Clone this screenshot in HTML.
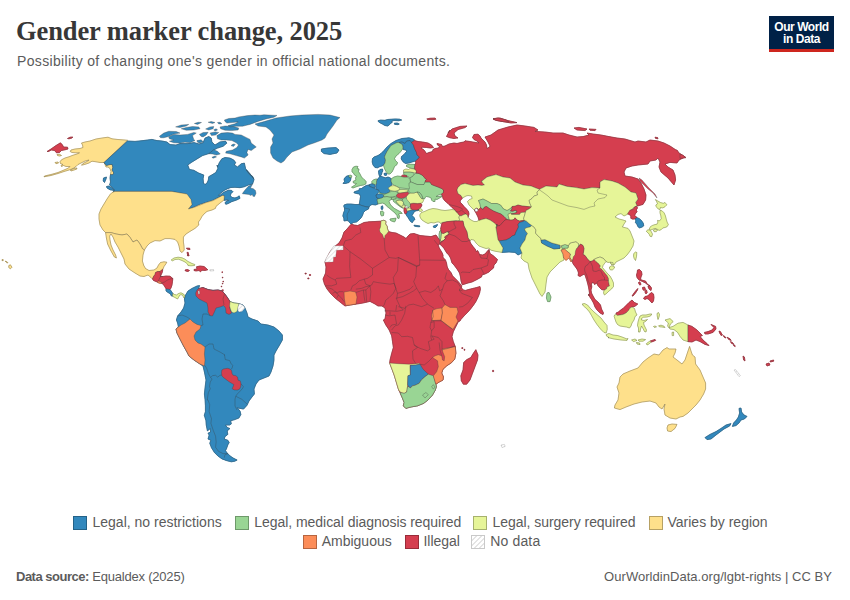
<!DOCTYPE html>
<html lang="en"><head><meta charset="utf-8"><title>Gender marker change, 2025</title>
<style>
html,body{margin:0;padding:0;background:#fff;}
body{width:850px;height:600px;position:relative;overflow:hidden;font-family:"Liberation Sans",Arial,sans-serif;color:#5b5b5b;}
.abs{position:absolute;white-space:nowrap;transform-origin:0 0;}
#title{left:16px;top:15.4px;letter-spacing:-0.1px;font-family:"Liberation Serif","Times New Roman",serif;font-weight:bold;font-size:26.5px;line-height:32px;color:#373737;}
#sub{left:17px;top:52.3px;letter-spacing:0.34px;font-size:14px;line-height:18px;color:#5b5b5b;}
#logo{left:769px;top:16px;width:65px;height:33px;background:#002147;border-bottom:3px solid #ce261e;color:#fff;text-align:center;font-weight:bold;font-size:12px;line-height:12px;letter-spacing:-0.45px;}
#logo span{display:block;}
.lg{font-size:14px;line-height:16px;color:#5b5b5b;}
.sw{position:absolute;width:12px;height:12px;border:0.7px solid rgba(0,0,0,.28);box-sizing:content-box;}
#foot1{left:16px;top:569px;font-size:13px;line-height:16px;}
#foot2{right:18px;top:569px;font-size:13px;line-height:16px;letter-spacing:0.04px;transform-origin:100% 0;}
svg{position:absolute;left:0;top:0;}
svg .top path{stroke:#3b3b3b;stroke-opacity:.6;stroke-width:.55;stroke-linejoin:round;}
svg .under path{stroke-width:.7;stroke-linejoin:round;}
.under .blue{stroke:#3288bd}.under .green{stroke:#99d594}.under .lyg{stroke:#e6f598}.under .yor{stroke:#fee08b}.under .orange{stroke:#fc8d59}.under .red{stroke:#d53e4f}
.blue{fill:#3288bd}.green{fill:#99d594}.lyg{fill:#e6f598}.yor{fill:#fee08b}.orange{fill:#fc8d59}.red{fill:#d53e4f}.none{fill:url(#hatch)}svg .top path.none{stroke-opacity:.35}svg .top path.ns{stroke:none}.white{fill:#fff}.line{fill:none}
</style></head><body>
<div id="title" class="abs">Gender marker change, 2025</div>
<div id="sub" class="abs">Possibility of changing one's gender in official national documents.</div>
<div id="logo" class="abs"><span style="margin-top:5px">Our World</span><span>in Data</span></div>
<svg width="850" height="600" viewBox="0 0 850 600">
<defs><pattern id="hatch" width="3" height="3" patternUnits="userSpaceOnUse" patternTransform="rotate(45)"><rect width="3" height="3" fill="#fff"/><line x1="0.5" y1="0" x2="0.5" y2="3" stroke="#e6e6e6" stroke-width="1"/></pattern></defs>
<g id="map">
<g class="under">
<path class="red" d="M47,151.5L51,149L56,145.5L60.5,142.8L62.5,145L63.5,147L67.5,147.2L68,149L65,149.8L61.5,150.5L59.5,152.5L56.5,152.8L54.5,150.5L51.5,150L48.5,151.5Z"/>
<path class="red" d="M67.5,138.5L70,137.2L72.8,137L72,138L69,138.8Z"/>
<path class="yor" d="M81.5,143L85,142L90,141L96,139L102,138L108,137.2L112,138.8L118,139.5L125,140L127.5,140.3L104,162.5L100,162.5L96,161.8L92,161.2L89,163L84.5,164.5L81.5,165.2L83,163.5L87,161.5L89,160L85,161L81,163L78,164.5L76,166.5L73,168.5L69,170L64,171.5L58,173.5L51,175.5L44,176.8L44.5,176L51,174.5L58,172.5L64,170L68.5,168L70,166.5L66,166.5L63.5,165.5L61.5,166.5L61,165.5L63,164.5L60.5,163.5L60,161.8L61.5,159.8L65,158L69,156.8L73,155.2L77,154L79.5,152.8L76,152.8L72,152.5L70.2,151.5L71,150L75,149L80,148.5L83,147.5L82.5,145Z"/>
<path class="yor" d="M104,162.5L106.5,165.5L110,164.5L112.2,164.5L112.8,167.5L112,170L113.8,173L112.5,174.8L110.5,174.5L111,171.5L110,168.5L108,167L106,167L105,164.5Z"/>
<path class="yor" d="M70.5,170L74,168.5L77,168L76.5,169.2L73.5,170.2L71,171Z"/>
<path class="yor" d="M57,154.5L59.5,154.3L61.5,155.5L59.5,156L57.5,155.5Z"/>
<path class="yor" d="M55,162.5L58,162L58.5,163L56,163.7Z"/>
<path class="blue" d="M103.5,178L106.5,177L106,179L104.5,182.5L103.2,181Z"/>
<path class="blue" d="M127.6,141L135,141.4L143,140.6L152,139.4L157,140.6L162,141L167,142L170,144.6L176,145L180,143.6L188,143.6L194,142.6L199,144L203.12,142.75L205,138.12L208.75,136.5L211.25,138.12L211.88,141.88L215,145L220,141.88L225.62,141.25L226.88,143.12L223.12,146.25L217.5,148.12L213.75,150L210,153.12L207.5,154L202.5,155.62L196.25,159.38L191.25,162.5L187.75,165L189.38,169.38L193.75,170.25L198.75,173.12L203.75,175L203.12,178.75L203.5,183.12L203.33,182.92L205,184.58L207.08,182.92L208.33,180L208.75,176.67L211.67,175L215.83,172.5L217.92,168.33L217.08,165L217.5,166.88L219.38,162.5L221.88,158.75L225,157.5L230,158.12L233.75,160L235.62,162.5L234.38,165L237.5,166.88L241.25,163.75L244.38,163.12L245.62,168.75L250,173.75L253.75,178.75L246.25,170L249.17,174.17L252.5,176.25L254,179.58L252.92,182.92L252.5,184L248.33,185L244.17,186.83L240,187.67L235,187.33L230.83,187.5L227.5,188.75L224.17,190.42L220.83,192.92L218.33,195.42L220,195.17L223.33,192.5L228.33,190.17L231.67,190.42L232.92,191.67L230.83,193.75L230.42,195.83L232.08,197.5L235,197.92L237.5,197.08L239.17,195.83L240,198.33L236.67,200L231.67,201.67L228.33,203.5L225.83,204.33L225,202.92L226.67,200.83L228.75,200.42L227.08,199.83L224.17,200.42L223.75,195.17L218,197.4L212,200.6L204,203L199,204.6L194,207L188,209L191.6,204.6L190,199L186,194L180,193L171,191.4L113,191.4L114.5,190L112,187L109.5,185L110.5,182L110,178L110.5,174.5L112.5,174.8L113.8,173L112,170L112.8,167.5L112.2,164.5L110,164.5L106.5,165.5L104,162.5Z"/>
<path class="blue" d="M106.5,186.5L109,186L112,188L114.5,190.5L110,189.8L107,188Z"/>
<path class="blue" d="M321.4,149L328,148L336,147.6L339,150L337,153L330,154.4L324,153.6L321.4,151.4Z"/>
<path class="yor" d="M115,191.4L172,191.4L181,193L187,194L191,199.4L192,204.6L188.4,209L194,207.4L200,205L206,202.6L213,200.6L219,197.4L222.4,195.4L224.4,196L224,200L220,203L216,206.4L215.4,208.4L212,210L207,211.4L204,214L202,216.4L200,220L198.4,222L198.8,225L195,228.4L190,231.4L186,234L183.4,237L183.4,242L184,246L184.2,250L182,252.6L180,251L179,246L177.6,242L175,239.4L170,238.6L165,238.6L160,241L155,240.6L150,243L147,246L144.4,250L142.4,248.6L140,244L137,240L133,242L130,237.4L127,234L122,235L116,234L111,232.6L105.6,232.6L103,230L100,225L99,219L99,214L101,209L104,204L107,199L110,194.6L112,192.6Z"/>
<path class="yor" d="M105.6,232.6L111,232.6L116,234L122,235L127,234L130,237.4L133,242L137,240L140,244L142.4,248.6L144.4,250L143,255L142.4,261L143.6,265L143.5,265L145.5,268.5L149,270.5L154,270L157,268L158.5,265L160.5,262.5L164,261.8L166.8,262.2L165.8,264L164,266.5L163,269L161.5,270L160,271.5L157.5,271.5L155.5,272.5L155,274.5L153.5,276.5L152.5,279L151,277.5L148,275L144,276.5L140,276L135,273L129,269L125,264L124,259L121,253L118,247L115,242L113,237L111,234L109.6,236L110,240L111,245L113,250L115.6,255L116.4,258L114.4,257L111,251L107.6,244L106.4,238Z"/>
<path class="red" d="M152.5,279L153.5,276.5L155,274.5L155.5,272.5L157.5,271.5L160,271.5L161.5,270L162.8,269.5L162.2,272.5L161,275L160.5,276.5L163,276.5L166,276L170,276.2L172.8,278.5L172.5,281.5L172,285L171,288L170,289.5L166.2,289L164.5,286.2L163,284L161.5,283.3L158.5,282.5L156,281.5L153.5,280.5Z"/>
<path class="orange" d="M157.2,281.8L158.5,281L161,281.8L161.8,283L160,283.3L158,282.8Z"/>
<path class="blue" d="M166.2,289L170,289.5L171.5,291.5L172.8,293.5L172.5,296.2L171.2,295.8L170.5,294L168.5,292.8L166.5,291.5L165.8,290Z"/>
<path class="lyg" d="M172.8,293.5L174.5,294.5L176.5,295L178.5,293.5L181,292.8L183.5,294L185,296L184.5,298L183.5,297.5L183,295.5L181,294.5L179.5,295.5L178.5,297.5L177.5,299L175,297.5L173,296.5L172.5,295Z"/>
<path class="lyg" d="M171.2,260L174,258L178,257.2L182,257.8L185,259.2L188,261.5L192,263.5L194.8,264.5L194.5,265.5L191,265.8L188,265.5L187.5,264L185,262L182,260.5L178.5,259.2L175,259.5L172.5,260.8Z"/>
<path class="red" d="M185,270L187.5,269.5L189.5,270.5L188,271.5L185.5,271Z"/>
<path class="red" d="M194,269.5L197,269L196.5,266.8L200,266L204,266.5L206.5,268.5L207.8,269.8L205,270.5L202,270.2L200.5,271.8L199,270.5L196,271L194,270.5Z"/>
<path class="red" d="M186.4,248.2L189.6,248.2L190,249.6L187.4,249.2Z"/>
<path class="red" d="M187,252.4L188.2,252.4L188.8,255.6L187.8,255.2Z"/>
<path class="red" d="M187.2,255L189,255L188.8,255.9L187.6,255.8Z"/>
<path class="red" d="M221.95,271.8L222.45,271.8L222.45,272.6L221.95,272.6Z"/>
<path class="red" d="M222.35,277.2L222.85,277.2L222.85,278L222.35,278Z"/>
<path class="red" d="M222.95,281.2L223.45,281.2L223.45,282L222.95,282Z"/>
<path class="red" d="M222.35,283.2L222.85,283.2L222.85,284L222.35,284Z"/>
<path class="red" d="M221.25,286.1L221.75,286.1L221.75,286.9L221.25,286.9Z"/>
<path class="red" d="M221.8,290L223.2,289.8L223,291.6L222,291.4Z"/>
<path class="yor" d="M8.8,265.6L10.4,264.8L12,267.2L10.4,268.8L8.8,267.6Z"/>
<path class="yor" d="M5.2,261.2L6.8,261.6L8,262.8L6.8,262.8Z"/>
<path class="yor" d="M2,259.6L3.2,259.6L3.2,260.6L2,260.6Z"/>
<path class="red" d="M305,273.2L306.2,273.2L306.2,274L305,274Z"/>
<path class="red" d="M309.4,274.6L310.6,274.6L310.6,275.4L309.4,275.4Z"/>
<path class="red" d="M307.8,278L309,278L309,278.8L307.8,278.8Z"/>
<path class="blue" d="M185.6,295L188,291L192,288.4L197,286L199.6,285.6L198.4,289L203,287.6L208,289.6L213,290.4L218,290L222,291L224,293L227,297L230,301.6L234,303L239,303.6L243,305L245,308L247,313L248,317L252,319L258,321L261,324L268,325L274,327L279,331L282.4,335L282.4,340L279,346L276,351L274,355L274,360L273,366L271,372L269,376L264,378L259,380L256,384L254,389L254.4,394L252,397L249,401L247.05,405.25L243.55,409.1L238.89,408.16L237.14,407.58L240.05,411.08L240.87,414.58L238.89,418.07L234.22,419.82L230.72,420.76L231.31,423.9L229.56,425.07L225.48,425.07L227.22,427.4L229.91,428.57L227.22,430.9L227.81,434.4L224.89,436.73L224.31,439.06L227.81,440.23L229.21,442.56L227.81,444.89L226.64,448.39L225.48,450.72L227.22,453.06L230.14,455.97L233.64,458.3L237.14,460.05L234.8,461.22L231.31,461.8L226.64,460.63L221.98,458.89L217.9,455.97L214.4,452.47L211.48,447.81L209.73,443.14L210.9,440.23L207.99,439.06L209.15,434.98L207.99,433.23L210.55,432.07L210.32,428.57L207.4,430.9L206.24,425.07L205.89,420.41L204.25,415.16L205.42,411.66L205.42,405.83L205.07,400L204.4,394L205,388L206,380L204.4,372L203,366L200,364L194,360L189,356L187,352L183.6,346L180,339L177,333L176,329L178.4,327L177.6,323L176.4,320L177.6,316L181,312L183.6,308L185,303L184.4,299Z"/>
<path class="red" d="M200.6,288L203,287.6L208,289.6L213,290.4L218,290L222,291L224,293L227,297L230,301.6L230.4,304L229.6,307L230.4,310L231.6,313L229,314.4L226,313L225.6,308L223.6,305.6L220,307L216,308L214.4,312L212.4,316L210,315.6L208,312L208,308L207,303L203,301L199,299L196,296L195.6,293L197,290L199,288.4Z"/>
<path class="lyg" d="M230,301.6L234,303L239,303.6L238,308L237,311.6L234,313L231.6,312L230.4,309L229.6,306Z"/>
<path class="orange" d="M176,329L178.4,327L181,325L185,323L190,319L193,322L197,324.4L201,325.6L200,329L196,332L194,336L195,340L198,343L201,344L205,347L204.4,354L205,360L204.4,366L200,364L194,360L189,356L187,352L183.6,346L180,339L177,333Z"/>
<path class="red" d="M221.88,370L223.75,368.88L227.51,368.35L229.76,368.88L231.63,370.75L232.01,373.38L233.13,375.26L235.76,375.63L237.63,377.13L238.01,380.13L240.26,380.88L241.01,383.88L240.63,386.88L239.51,389.13L237.26,390.11L234.26,389.88L232.16,388.76L233.13,386.51L233.88,384.63L232.01,383.51L229.01,381.63L226.01,379.38L223.38,377.51L221.88,375.63L221.5,372.63Z"/>
<path class="green" d="M390,187L400,188.5L409,189.5L410,193L409,200L404,205L396,200L392,197L384,196L380,194L378,191L380,190L388,190Z"/>
<path class="blue" d="M372.5,158.5L374,157L378,155.5L381,153.5L384,150.5L387,147L391,143.5L396,140.5L402,138.5L409,137.8L413,139L414.5,140L411.5,142.5L410,140.5L406.5,141.2L405,143.5L402,142L399,142.5L397,142.5L394,144L391,145.5L389,148.5L387,151.5L385.5,154.5L384.5,157L385.5,160L385,163L383.5,165.2L382,166L380,166.5L377.5,167.8L375,167.5L373,165L372.2,162Z"/>
<path class="green" d="M399,142.5L397,142.5L394,144L391,145.5L389,148.5L387,151.5L385.5,154.5L384.5,157L385.5,160L385,163L383.5,165.2L384.5,168.5L386,171.5L388,174L390,174L392,172L393.5,169L394.5,166.5L397,164.5L397.5,162.5L395.5,160.5L394.5,158.5L396,156L399,153.5L401.2,151L403.2,148L402.8,145L401,143.5Z"/>
<path class="blue" d="M399,142.5L402,142L405,143.5L406.5,141.2L410,140.5L411.5,142.5L413.5,145L414.5,148.5L416.5,152.5L417,155L419.5,157L418,159L415.5,161L412,162L409,163L405.5,163.5L403,161.8L401.2,159L401.5,156.5L404,154.5L406.5,151.5L406,150L403.2,149.5L403.2,148L402.8,145L401,143.5Z"/>
<path class="green" d="M406.5,165L410,164.2L415,164.5L414.5,167.5L414.8,169L412,168.5L409,167.5L406.5,166.5Z"/>
<path class="lyg" d="M403.5,170L406,169L408.5,169.5L410,168.5L412,168.7L414.8,169.2L416.5,171L416,173L413.5,172.5L410,172L406,172L403.5,172Z"/>
<path class="green" d="M403.5,172.5L406,172.2L410,172.2L413.5,172.8L414.5,174L412.5,176.5L410,178L408.5,177L407,175.5L404,175Z"/>
<path class="red" d="M401.2,176.2L402.5,175.2L405,175.2L406.8,175.8L407.2,177L404,177.2L401.5,177Z"/>
<path class="green" d="M414.5,174L416.5,173L416,173L419,173.5L422,175L424,177L425,178.5L426.5,179.5L425,181L425.5,182L425,182L424,184.5L417,184.5L411,182L409,183L410.5,182L410,179L410,178L412.5,176.5Z"/>
<path class="green" d="M391,179L394,177L397.5,176L401.2,176.5L404,177.2L407.2,177.2L409,178L410,179.5L410.5,182.5L410,184.5L411,187L409.5,189L406,188.5L402,188L399,187.5L396,186L393.5,185L391.5,183L390.8,181Z"/>
<path class="blue" d="M377.5,179L379,177.8L380,176L383,177L385.5,177.8L388,177L390.5,178L391,179L390.8,181L391.5,183L392,185L390,186.5L389,188.5L390,191L389,192.5L386,193.8L383,193.5L380,193L378.5,190L376.5,189.5L375.8,186L376.5,184L376.5,181Z"/>
<path class="blue" d="M378.5,171L380,169.5L382.5,169L382.8,171L382,172.5L381.5,174.5L380.5,176L379.5,176.2L378.8,174Z"/>
<path class="blue" d="M384,173.5L386,173L387,174L386.2,175.5L384.5,175.2Z"/>
<path class="green" d="M371.8,181.5L373.5,179.8L376,179L377.2,179.2L376.5,181L376.5,183.5L375,184.8L373.5,184L372,183.5Z"/>
<path class="blue" d="M369,184.8L371.8,183.8L373.5,184.2L375,185L375.2,187.5L373.5,188L371,187L369.2,186Z"/>
<path class="green" d="M352,169.5L353.5,167L356,166.2L358,166.5L357,168.5L359,169L358.5,171.5L360,174L361.5,177L364,179.5L366.2,181.5L365.8,184L363.5,185L360.5,185.5L357,186.5L353,188L351.5,187.2L355,185L356.5,183.5L353.5,183L353,181.5L356,180L355.5,178L356.5,176L354.5,175L353.5,173L352,172Z"/>
<path class="green" d="M348.5,176L350,175L351.8,175.8L351.5,177.5L349.5,177.8Z"/>
<path class="blue" d="M344,179L346,176.5L348.5,175.5L349,177.5L351,178L350.5,180.5L349,182.5L345.5,183.5L343,183.5L344.5,181.5Z"/>
<path class="blue" d="M354,192L356.5,191L359,190.5L359.2,188.8L361.5,188.5L364,186.8L366.2,185.5L369,185L369.2,186.2L371,187L373.5,188L375,188.5L376.5,189.5L378.5,190L379,191.5L377.5,193.5L376,195L376.5,197.5L378.5,198.5L377,199.5L377.5,201.5L378,204L375.5,205L372,204.5L370,205.5L369,207.2L366,206.8L362.5,205.8L359,204.5L359.5,203L360,199.5L360.5,196.5L359.5,194L356.5,193.5L354,192.8Z"/>
<path class="blue" d="M381.2,206.5L382.5,205.8L383,208L382.2,209.8L381.2,209Z"/>
<path class="green" d="M380.5,211.5L382.5,211L383.8,212.5L383.5,215.5L381.5,216L380.5,214Z"/>
<path class="blue" d="M344,205L347,204L351,204L355,204.5L359,204.5L362.5,205.8L366,206.8L369,207.2L368.5,209L365.5,210.5L363.5,212.5L362.5,215.5L361,218L359,220L356.5,222L353.5,222.5L351,224L349.5,222.5L348.5,221L347,220.5L344,221L343.8,218L342.8,216L343.5,213L344.5,210.5L344.5,208L343.8,206.5Z"/>
<path class="green" d="M377.5,201.5L377,199.5L379,198.5L382,197.8L384,196.8L387,196.5L390,197L392,197.8L391.5,199.5L390,200L389,201.5L390,204L392,206.5L394.5,208.5L398,210.5L401,212L402.2,213.5L400,213.5L398.5,214L399.5,216L399,218.5L397.5,218L397,215.5L395,213L392,210.5L389,208L386.5,206L385,204L382.5,203L380,203.5L378,204Z"/>
<path class="green" d="M390,219L393,218.5L396,218.2L395.5,220.5L394.5,222L391.5,221L390,220Z"/>
<path class="blue" d="M376,195L378.5,194L382,194L384,195L383.5,196.5L382,197.8L379,198.5L376.5,197.5Z"/>
<path class="green" d="M383.5,195L386,193.8L389,192.5L392,191L395,191.2L397.8,192.5L398,194L396.5,196L393,196.8L390,197L387,196.5L384,196.8Z"/>
<path class="lyg" d="M388,188L391,186L394,185.5L396.5,186.5L399,187.8L400,189.2L398,190.5L395,191.2L392,190.8L389.5,190Z"/>
<path class="lyg" d="M398,190.5L400,189.5L404,189.5L408,190L407.5,191.8L404,192.5L400,193L397.8,192.5Z"/>
<path class="red" d="M396.5,195L398,193.5L401,193L404.5,192.5L408,192L409,193.5L407.5,196L405,197.5L401.5,198.5L398.5,198L396.5,196.5Z"/>
<path class="green" d="M391.5,197.8L394.5,197L396.5,197.5L395.5,199L393,199.5L391.5,199.2Z"/>
<path class="green" d="M393,199.5L395.5,199L397,197.8L400,198.8L402.5,199L402,200.5L399,200L397,200.5L396,201.5L398,204L400.5,206.5L403,208L401.5,207.5L398.5,205.5L395.5,203L393.5,201.5Z"/>
<path class="lyg" d="M396,201L397.5,200.5L400,200.2L402.2,200.8L403.5,202.5L403,205L402,206.5L400,205.5L398,203.8Z"/>
<path class="green" d="M402.5,199L405,197.8L407,198.5L409,201L410,203.5L410.5,205.5L409,207.5L406.5,207.2L405.5,205.5L404,204.5L403.5,202.5L402.5,200.5Z"/>
<path class="lyg" d="M402,206.5L403.2,205L404.8,205.5L405,207.2L404,208.2L402.8,207.8Z"/>
<path class="red" d="M404,208.2L405,207.5L406,208.5L406.8,210.5L407.2,212.5L406,214L404.8,213.5L404,211Z"/>
<path class="lyg" d="M406.8,208.5L409.5,208L411.2,209L410.5,210.5L408,211L406.8,210.5Z"/>
<path class="blue" d="M406,214L407.2,212.5L408,211L410.5,210.5L413.5,210L417,209.5L419,209L418.5,210.5L416,210.8L414,212L413,214L412,215.5L414,217.5L415,219.5L413.5,220.5L412.5,222.5L411,222L409.5,220L408,217.5L406.5,215.5Z"/>
<path class="blue" d="M414,225.2L417,225.5L420,226L419.5,226.8L416,226.5L414.2,226Z"/>
<path class="blue" d="M433.2,226.2L435,225.5L437.5,224.5L437,226L435.5,227.5L433.8,227.5Z"/>
<path class="lyg" d="M406.5,196.5L408.5,194L411,193L414,193L417,192L418.5,194L420,196.5L421.5,198.5L423,198.8L423.5,200.5L422.5,202.5L421,203.2L417.5,203.5L413.5,203.2L410.5,203.5L408.5,201.5L406.5,199Z"/>
<path class="red" d="M410.5,204L413.5,203.5L417.5,203.8L421,203.5L422,205L421,207L420,208.5L418.5,209.5L416.5,210L413.5,210L411.2,209L410.5,207Z"/>
<path class="green" d="M409,183L411,182L417,184.5L424,184.5L425,182L430,182L431.5,184.5L434,185.5L438,187L441.5,188.5L443.5,190L443.5,192.5L441.5,194L438.5,195L436,196.5L439,196.5L442.5,195.5L442,196.5L439.5,198L437,199.5L435,199L435,201.5L433,201.5L431.5,200L431.2,198L429,197L426.5,196.5L425,197.5L424.5,199L423,198.5L421.5,195L419.5,192.5L417,192L414,193L411,193L409,192L408.5,190L409.5,188L409,185.5Z"/>
<path class="green" d="M417,192L419.5,192.5L421.5,195L423,198.5L421.5,198.5L420,196.5L418.5,194Z"/>
<path class="lyg" d="M419,209L420,208.5L421.5,209L422.5,210.5L421,211.5L419,211Z"/>
<path class="lyg" d="M420,214.5L421.5,212.5L424.5,211.5L429,209.5L433,208.5L437,209L441,210L445,210.5L449,210L452,209.5L455,210L456,211.5L458,213.5L459.5,215.5L459,217.5L459.5,219.5L459,221L456,220.5L453,221L449,221.5L445,222L442,222.5L440.5,223.5L439.5,222L437,222L434,223L431,222.5L428,223.5L425,222L422,220L420.5,218L419.8,216Z"/>
<path class="lyg" d="M441,236L441.5,233L443.5,233.5L446.5,232L448.2,231.2L449,234L446.5,235.5L444.5,237L445.5,238.5L443.5,240.5L441,241.5L440,241L440.8,238.5Z"/>
<path class="green" d="M439.8,231L441,230.5L441.5,233L441,236L440.8,238.5L440,241L439.2,237.5L439,234.5Z"/>
<path class="lyg" d="M440.8,228L442.2,227.5L442,230L441,230.7Z"/>
<path class="blue" d="M378.07,120.71L380.71,120.05L384.83,120.3L387.71,119.47L391.42,119.23L395.54,118.9L399.65,119.23L401.71,120.05L398.83,120.71L393.89,120.54L391.83,121.12L392.24,122.36L390.43,123.59L389.36,124.83L387.71,126.06L384.83,125.49L382.36,124L379.88,122.77L378.24,121.53Z"/>
<path class="blue" d="M394.3,123.18L397.18,123.01L399.24,124L398.01,124.66L394.71,124.42Z"/>
<path class="red" d="M351.5,224L354,225L357.5,225.5L360,224.5L364,222.5L369,221.8L375,221.5L380.5,221.2L384,220.2L386,221.5L385.5,224L387,226L387.5,229L388.5,231.5L392,232.5L396,233L400,235L404,237L406,238.5L408,236L410,234L414,233.5L417,234.5L420,235.5L425,236L431,236.6L436,235L439.9,240.6L439.6,244L438.3,245.4L439.25,248L442.25,253L443.1,255.5L442.9,257L443.5,258L445.5,260L446.5,263L447.25,267L448.5,269.5L451.25,272.92L452.5,275.83L455,278.33L457.92,281.25L460,283.75L461.67,285.83L461.5,287.92L463.33,290L465.42,290.42L468.33,289.58L472.5,288.5L476.67,287.5L480,286.5L480.42,289.17L479.58,293.33L477.92,297.5L475.83,301.67L473.33,305.42L470.42,309.17L467.5,312.5L464.17,315.83L460.83,319.58L460,321L458.33,321.67L455,328.33L453.33,331.67L452,336.67L453.33,341.67L455.33,346.67L455.83,353.33L454.67,359.17L451.67,362.5L446.67,365.83L443,369.17L441.67,373L443.33,376.67L443,380L439.17,382L435.83,384.17L436.33,386.67L435.33,390L432.5,395L428.33,399.67L423.67,403.33L417.5,405.83L410.83,407L405.83,408.33L403.33,405.83L404.17,402.5L402.5,398.33L400,392.5L398.67,390L396.67,383.33L394.17,375L391.67,368.33L389.67,363L390,360L391.67,353.33L393.33,347.5L392.5,341.67L391.67,335.83L389.17,330L385.83,325L383.33,320L385,319L386,313L385,308L382,306L378,306L375,304L370,301.4L363,303L357,304L350,305L345,306L340,302L335,298L331,294L327,289L324.4,284L323,279L325.6,273L326,267L325,262L327,258L330,252L334,247L339,243L342,238L344,232L347,229L350,225.5Z"/>
<path class="lyg" d="M381,221L384,220.2L386,221.5L385.5,224L387,226L387.5,229L388.5,231.5L387,233.5L385,235.5L384.5,239L383.5,237.5L382.5,234.5L380,232L379.5,229.5L380.5,227L380.8,224Z"/>
<path class="orange" d="M344,292L350,291L355.6,292L357,297L356,304L350,305L345.6,305.4L344.4,299Z"/>
<path class="orange" d="M433,310L437,308.6L442,308L442.4,313L441,320L432,320.6L431.6,315Z"/>
<path class="orange" d="M442,308L445,304.6L450,307.4L457,307.4L458,312L456,317L458,321L453,329.4L448,326L441,320.6L442.4,313Z"/>
<path class="lyg" d="M389.67,363L398.33,363.67L409.17,364.17L415.83,363.67L419.17,363.33L420,364.17L415.83,365L410,365.33L410.33,375L408,375.83L407.5,386.67L406.67,392L404.17,393.33L400.83,392.5L398.67,390L396.67,383.33L394.17,375L391.67,368.33Z"/>
<path class="blue" d="M410.33,365.33L415.83,365L420,364.17L423,369.17L428.33,374.17L425,376.67L421.33,380L419.17,383.33L415,385.33L412.5,385.83L410.33,388L408.67,386.67L407.67,384.67L407.83,375.83L410.33,375Z"/>
<path class="green" d="M400,392.5L404.17,393.33L406.67,392L407.5,386.67L408.67,386.67L410.33,388L412.5,385.83L415,385.33L419.17,383.33L421.33,380L425,376.67L428.33,374.17L433.33,375.83L435.83,384.17L436.33,386.67L435.33,390L432.5,395L428.33,399.67L423.67,403.33L417.5,405.83L410.83,407L405.83,408.33L403.33,405.83L404.17,402.5L402.5,398.33Z"/>
<path class="green" d="M422.5,395L425.83,392.5L428.33,394.67L425,398Z"/>
<path class="green" d="M431.67,386.67L433.33,384.67L435,387L433.33,389.17Z"/>
<path class="orange" d="M455.33,346.67L455.83,353.33L454.67,359.17L451.67,362.5L446.67,365.83L443,369.17L441.67,373L443.33,376.67L443,380L439.17,382L435.83,384.17L433.33,375.83L436.67,371.67L438.33,366.67L437.5,360.83L432.5,357.5L435,355.83L438.33,354.67L441.67,355.83L442.5,360L444.17,360.83L444.67,356.67L443,352.5L442,349.17L445.83,348.33L450.83,347.5Z"/>
<path class="red" d="M475.83,349.67L478,355L477.5,360L475,366.67L472.5,373.33L470,380L466.67,384.17L463.33,384.17L461.33,380.83L460.83,375.83L463,370L463.67,362.5L466.67,359.67L470.83,357.5L473.33,353.33Z"/>
<path class="red" d="M461.83,347.67L462.83,347.67L462.83,348.5L461.83,348.5Z"/>
<path class="red" d="M464,349.33L464.83,349.33L464.83,350.17L464,350.17Z"/>
<path class="red" d="M492.6,370.4L493.6,370.4L493.6,371.6L492.6,371.6Z"/>
<path class="red" d="M411.5,142.5L414.5,140.5L418,141.5L422.5,142L428,143L431.5,145L433.5,147.5L430.5,148L426.5,147.5L422.5,147.2L421,148L424,150L426.5,153.5L429,152.5L432.5,151.5L433,149.5L435,148.5L438.5,148L439.5,146.5L437.5,145L437,143.5L439.5,144L441.5,144.5L442.5,146.5L445,146L449,144L454,143L457,143.5L461,142.5L464,142L465,140.8L470,141.5L474,142.2L479,143L477,141L474,139.5L472.5,137.5L474,134.5L478,134.2L480,136L481,138L483,140L485,142L486.5,145L487,148.5L489.5,147L490,146L488,142L485,137L491,135L498,130L508,127L517,125L525,126L534,127.4L538,130L535,131.4L545,132L553,133L563,133L569,135L577,137L583,136.6L589,135L587,133L593,134L601,135L609,136.6L617,138L625,139L635,142L638,141L646,142L650,140L658,141L664,143L670,146L676,150L677,150L679,153L685,157L679,160L677,163L670,162.4L665,164L668,167L673,170L675,175L675.6,180L674,185L668,178L661,172L659,167L660,162L658,158L656,160L650,161L648,164L638,165L632,166L626,168L624,172L625,176L632,177L638,179L641,183L644,189L646,195L645.6,200L643,204.4L639,205.6L637,206L635.6,202.4L638,199L636,193L631,192L625,187L618,183L612,181L604,179.6L600,182L600,188L592,187.6L584,189L576,187.6L567,186.4L559,184L557,187L546,186L539,189.6L536,188L531,186L523,185L515,182L510,178L503,177L496,174.6L487,177L482,181L481.5,181L482.5,183L484.5,184.8L482,185.5L478,185L473,185.5L469,184.5L465,183.5L461,184.5L458,187.5L457,190L458,193.5L461,195.5L462.5,198L460,201L460.5,202.5L462,204L464,206.5L466.5,209L468.5,211.5L469,214L468,217.5L467.5,215.5L466,214L464,214.5L461,216L459.5,215.5L458,213.5L456,211.5L455,210L452,207.5L449,204.5L448,203.5L445,201L443,198.5L442.5,196L441.5,194L443.5,192.5L443.5,190L441.5,188.5L438,187L434,185.5L431.5,184.5L430,182L429,182L425.5,182L425,181L426.5,179.5L425,178.5L424,177L422,175L419,173.5L416,173L416.5,171L414.8,169.2L414.5,167.5L415,164.5L415.8,163L415.5,161L418,159L419.5,157L417,155L416.5,152.5L414.5,148.5L413.5,145Z"/>
<path class="red" d="M446.5,136.5L448,133.5L450,130L448,133L452,129L460,126.4L467,126L465,127.6L458,129.6L454,133L455,136L458,138L457,138L454,138.5L450,137.8Z"/>
<path class="red" d="M493,118.6L500,118L508,120.6L517,122.6L511,123L502,121.4L495,120Z"/>
<path class="red" d="M574,128L579,127.4L587,129L585,130.6L577,130Z"/>
<path class="red" d="M589,129L596,129.4L595,130.6L590,130.2Z"/>
<path class="red" d="M426.84,118.9L430.13,118.24L435.07,118.07L435.9,119.23L432.6,119.72L427.66,119.56Z"/>
<path class="red" d="M493,119L498,118L506,120L509,122L503,121.6L497,120.6Z"/>
<path class="red" d="M655,137.2L657.6,137.6L658,138.8L655.6,138.4Z"/>
<path class="red" d="M680,154L682.4,155L686,157.6L683,158L680,158.4Z"/>
<path class="lyg" d="M462.5,198L461,195.5L458,193.5L457,190L458,187.5L461,184.5L465,183.5L469,184.5L473,185.5L478,185L482,185.5L484.5,184.8L482.5,183L481.5,181L482,181L487,177L496,174.6L503,177L510,178L515,182L523,185L531,186L536,188L540,189.4L537,192L537.5,195L534,196L532,198.5L529,200.5L530,203.5L531.5,207L527,206.5L522,206L518,205L515,206.2L512,206.5L511.5,207.5L509,209.5L507,210.5L503.5,209L500.5,205L497,203.5L491.5,203.5L487,201L483,199L478.5,200.5L480,204L480.5,207.5L478.5,210L477,208L475,209L474.5,210.5L472,208L469,205L467.5,201.5L469.5,199.5L472.2,198.5L471.5,196L468,195.5L466,196Z"/>
<path class="green" d="M478.5,200.5L483,199L487,201L491.5,203.5L497,203.5L500.5,205L503.5,209L507,210.5L509,209.5L511.5,207.5L512,209L510.5,211L513,211.2L515,210.2L517,211L516.5,212.5L514,213.5L511.5,213.5L510.5,213L508,214.5L508.5,216.5L509.5,220L507,219.5L504,216.5L501,214L497,212.5L493.5,211L490,209L486.5,206.5L484.5,207L483,209.5L480.5,207.5L480,204Z"/>
<path class="red" d="M512,206.5L515,206.2L518,205L522,206L527,206.5L531.5,207L529,209L526,210.5L525.5,212.2L521,212.5L519.5,214.5L515,214.5L511.5,214.5L511.2,213.8L514,213.5L516.5,212.5L517,211L515,210.2L513,211.2L510.5,211L512,209Z"/>
<path class="lyg" d="M508,214.5L510.5,213L511.5,214.5L515,214.5L519.5,214.5L521,212.5L525.5,212.2L523.5,219L524.8,220.5L522.5,220.5L519.5,221L517,220L515,217.8L514,219.5L512,220L509.5,220L508.5,216.5Z"/>
<path class="red" d="M475,209L477,208L478.5,210L480.5,207.5L483,209.5L484.5,207L486.5,206.5L490,209L493.5,211L497,212.5L501,214L504,216.5L507,219.5L505,220L503,222L500,225.5L497,226L495.5,224L493,222L490,220L486,218.5L482,219.5L479,220.5L478,217L476,213L474.5,210.5Z"/>
<path class="red" d="M497,226L500,225.5L503,222L505,220L507,219.5L509.5,220L512,220L514,219.5L515,217.8L517,220L519.5,221L522.5,220.5L524.8,220.5L523,221.5L519.5,222.5L518,224.5L518.5,227L517,230L515.5,233L515,235L512,236L510,238L506,240L499,241L498,240L497,234L496,228L497,224L496,227.5Z"/>
<path class="blue" d="M524.8,220.5L526.5,221.2L529,223.5L531.8,225.5L530,227L526.5,227.8L524.5,229L525.5,231L527.5,233.5L526,236L525,240L522,244L520,248L522,253L518,255L515,252.4L509,252L502,252.4L503,248L500,243L499,241L506,240L510,238L512,236L515,235L515.5,233L517,230L518.5,227L518,224.5L519.5,222.5L523,221.5Z"/>
<path class="lyg" d="M459,221L459.5,219.5L459,217.5L459.5,215.5L461,216L464,214.5L466,214L467.5,215.5L468,217.5L469,218.5L471,220L474,221.5L477,221.5L479,220L479,220.5L482,219.5L486,218.5L490,220L493,222L495.5,224L497,226L496,227.5L497,224L496,228L497,234L498,240L499,241L500,243L503,248L502,252.4L495,251.2L490.5,250L489,248L486,248.5L483,247.5L479,246L476,243L474,240L471,239.5L470,241L468,238L467,232L464,226L463,221Z"/>
<path class="red" d="M442,223L447,221.6L454,221L459,221L463,221L464,226L467,232L468,238L469.5,240L470.5,243L473,246.5L475.5,249.5L476.5,252L477.5,250.5L478.5,252L479.5,254.5L482.5,255L485,254L487.5,251L489,249.5L490,253.5L493,255.5L497.5,259.5L496,263L494,265L493.5,268L491,270L489,272L485,274L482,275L481.5,277L477,279.5L472,282L468,283L465,284L462.2,284.8L461,281L460.5,277L459.5,273L457,269L455.5,267L454,265L452,263L450.5,258L448.75,255L446.75,253L443.75,248L440.75,245L440,243.5L441,241.5L443.5,240.5L445.5,238.5L444.5,237L446.5,235.5L449,234L448.2,231.2L446.5,232L443.5,233.5L441.5,233L441,230.5L440.8,228Z"/>
<path class="lyg" d="M531.8,225.5L530,227L526.5,227.8L524.5,229L525.5,231L527.5,233.5L526,236L525,240L522,244L520,248L522,253L521,258L524,261L528,263L529,269L532,278L536,286L540,294L542,296.4L545,292L546,284L547,277L550,272L555,267L560,262L564,260L563.6,258L563,254L561,250L564.4,249L568,252L570.4,254L569.6,257L572,261L575,256L577,251L579,244L576,241.6L570,243L568.4,245.6L568,248L562,248.4L561.6,245.6L561,246L560,248.4L554,249L547,246L541.6,243L541,240L541,239L541,238.5L538,236L535.5,233L536,230L534,227Z"/>
<path class="green" d="M547,293L549,292.4L551,297L550,301.6L547.6,301.6L546.4,298Z"/>
<path class="blue" d="M541,240L545,239.6L552,243L559.6,245L560,248.4L554,249L547,246L541.6,243Z"/>
<path class="green" d="M561.6,245.6L565,244.4L568.4,245.6L568,248L562,248.4Z"/>
<path class="orange" d="M561,250L564.4,249L568,252L570.4,254L569.6,257L572,261L571,262L569,258L566,260.4L563.6,258L563,254Z"/>
<path class="lyg" d="M539,190L537,192L537.5,195L534,196L532,198.5L529,200.5L530,203.5L531.5,207L529,209L526,210.5L525.5,212.2L523.5,219L524.8,220.5L526.5,221.2L529,223.5L531.8,225.5L534,227L536,230L535.5,233L538,236L541,238.5L541,239L541,240L545,239.6L552,243L559.6,245L561,246L561.6,245.6L565,244.4L568.4,245.6L570,243L576,241.6L579,244L578,247.5L580.5,244L583,245.5L584,248.5L583.5,252L583,254.5L585,255.5L587.5,259L590,261.5L592.5,261L594,259.5L597,258L600,257L603.5,258.5L606,261.5L608,262.5L610.5,262.2L611,264L614,265L616,262L620,260L624,258L627,255L630,251L633,246L634,241L632,236L630,231L628,228.4L622.4,227L624,224L626,221L623,220L619,219L615,217L618,214.4L621,213.6L624,216L628,214L631,210L634,207L637,206L635.6,202.4L638,199L636,193L631,192L625,187L618,183L612,181L604,179.6L600,182L600,188L592,187.6L584,189L576,187.6L567,186.4L559,184L557,187L546,186L539,189.6Z"/>
<path class="red" d="M578,247.5L580.5,244L583,245.5L584,248.5L583.5,252L583,254.5L585,255.5L587.5,259L590,261.5L592.5,261L594,259.5L596,261.5L598.5,263.5L600.5,266L599.5,267.5L602,269.5L604.5,272.5L607,275.5L608.5,278.5L608.5,281L609,284L609.5,286L607,287L606.5,289L603.5,290L601.5,289.5L599.5,287.5L597.5,285L597,283L594.5,284.5L594,283L592,282.5L591.5,284.5L591.8,287L591,290L591.5,293L593,296L595,299.5L598,302L600.5,305L601.5,309L603.5,313L603,314.5L600,313L597,310L595,307L593.5,303L591.5,299.5L589.5,296.5L588.5,294L589,296L589.5,293L589,290L588.5,287L587.5,283L586.5,279.5L585.5,276.5L584.5,274L582.5,275L580,276.5L578,275.5L578.5,273L577.5,270L575.5,267L573.5,264.5L572.5,262.5L572.8,259L573.5,256.5L575,255L575.5,251L576.5,248.5Z"/>
<path class="lyg" d="M594,259.5L597,258L600,257L603.5,258.5L606,261.5L604.5,263.5L603,265.5L602.5,267.5L604.5,270L607,273L610,276L612,279.5L613.5,283L613.5,286.5L611.5,289L609,291L607,293L604.5,295L603.5,293L604,290.5L606.5,289L607,287L609.5,286L609,284L608.5,281L608.5,278.5L607,275.5L604.5,272.5L602,269.5L599.5,267.5L600.5,266L598.5,263.5L596,261.5Z"/>
<path class="lyg" d="M609.5,267L611.5,265.8L614,266.2L614.5,268L612.5,269.8L610.5,270L609.5,268.5Z"/>
<path class="lyg" d="M610.5,262.2L613,262.6L613.2,265L611.5,264.6Z"/>
<path class="lyg" d="M633.8,253.5L635.5,252L636.8,252.5L636.5,256.5L635.5,260.5L634.2,258.5L633.5,256Z"/>
<path class="red" d="M637.5,270L639.5,269.5L641.5,271.5L642,274.5L641,277L640.5,279.5L643,280.5L645.5,281L647,283.5L649,285.5L650,285.5L648,285L645.5,283L642.5,281.5L639,280L638.5,279.5L637,277.5L636.5,275L637.2,272.5Z"/>
<path class="red" d="M638.5,282.5L639.8,281.8L641,284.2L640,285.2L639,284Z"/>
<path class="red" d="M632,296L634,293L636,290.5L637.8,288.5L637.5,290L635.5,293L633,296Z"/>
<path class="red" d="M642.5,287.5L644.5,287L645.5,289.5L644,290.5L642.8,289.5Z"/>
<path class="red" d="M645,291L646.5,290L647.2,292.5L646,294L645.2,292.8Z"/>
<path class="red" d="M648,286L650,285.8L651.5,288L651,290.5L649.5,289.5L648.5,288Z"/>
<path class="red" d="M643.5,298.5L645,296.5L647.5,296L649,294.5L651.5,292.5L653.5,294L654,297.5L653.5,301L652,303L650.5,301.5L649,299.5L647,298.5L645,299.5Z"/>
<path class="lyg" d="M582.2,304L584.5,303.5L587.5,305L590.5,308.5L594,312L597.5,315L601,318L604,322L607,325.5L607.2,329.5L606.2,333L604,332.5L600.5,329L597,324.5L594,320L591.5,315.5L589.5,312L586.5,308.5L583.5,306Z"/>
<path class="lyg" d="M606.2,334.5L609,333.5L613,335L617.5,335.5L622,337L627,339L628,338.4L627,340.4L621,340L614,339L608,337.6L609,337.5L606.5,336Z"/>
<path class="red" d="M616,313L618.5,312L620.5,310L623,308.5L626,305.5L629,302.5L632,300L634.5,302.5L637.8,304L636,305.5L634.5,306.5L632,307L630,308L628.5,310.5L626,313L623,314.5L620,315L617.5,315.5L616.2,314.5Z"/>
<path class="lyg" d="M614.5,315L616.2,314.5L617.5,315.5L620,315L623,314.5L626,313L628.5,310.5L630,308L632,307L634.5,308.5L635.5,312L637,315L635,316.5L634,320L632,323L631,326L629.5,328L626.5,327L623,326.5L620,326L617.5,324.5L616,322L615,319L614.2,316.5Z"/>
<path class="lyg" d="M640,316L642.5,315L646,315L650,314L651.8,314L650.5,316L647,317L643.5,317.2L641.5,318.5L641.5,320L644,320.5L647.5,319.5L645.5,321.5L643.5,322.5L644,325L645.5,328L646.5,330L646,332L644.5,331.5L643,328.5L641.5,326L640.5,329L640,332L638.5,332L638.5,328L637.5,325.5L638,322L639,318.5Z"/>
<path class="lyg" d="M657,313.5L658.5,312.5L659.5,314.5L659,317L658,319.5L657.5,317.5L657.2,315.5Z"/>
<path class="lyg" d="M653.5,326.5L655,326L656.5,326.8L654.5,327.5Z"/>
<path class="lyg" d="M658.5,325.8L661,325.2L664,326.2L665,327.5L662,327L659.5,326.8Z"/>
<path class="lyg" d="M631.6,340L635,339L637,340.4L633.6,341.6Z"/>
<path class="lyg" d="M638,340L642,339L645.6,339.6L643,341.2L639,341.2Z"/>
<path class="lyg" d="M636.4,342.4L639.6,343L640,344.6L637,344Z"/>
<path class="lyg" d="M646.4,343.6L650,341L651.6,341.6L649,344L647,345Z"/>
<path class="red" d="M650.4,341L655,339.4L655.6,340.4L651.6,342Z"/>
<path class="lyg" d="M672,332.4L673.6,332L673.6,335.6L672.2,335.6Z"/>
<path class="lyg" d="M665,320L670,318.6L673.2,321.6L670.4,324L669,327.6L673,326.4L678,323.2L683,322.4L688,325L688,341.6L683,340L680,336.4L677.6,332.4L674,329.6L670,329L667.6,326L668.4,323Z"/>
<path class="red" d="M627.5,213.75L630,210L632.92,209.58L635,206.67L636.67,206.25L637.5,207.92L636.25,210L637.08,211.67L635.42,213.75L634.58,215.42L637.08,217.5L635,218.75L632.92,219.17L630.83,218.33L630.83,215.83L629.17,214.58Z"/>
<path class="blue" d="M635,218.75L637.08,217.67L639.58,218.75L641.67,220.83L643.33,223.33L643.75,225.83L642.08,227.08L639.58,227.92L637.92,226.67L636.83,224.17L635.42,222.5L635.83,220.83Z"/>
<path class="lyg" d="M655.42,199.58L657.5,200.83L660.42,202.5L663.33,203.33L665,202.5L666.83,204.83L665,206.67L662.92,207.92L660.42,207.5L660,209.58L657.92,208.75L656.25,206.67L655.83,205L657.5,203.75L656.67,201.67Z"/>
<path class="lyg" d="M660,210.42L662.08,210.83L664.17,212.92L665.42,215.83L666.25,219.17L667.08,222.08L668.33,224.58L667.08,226.67L665,227.5L662.92,227.92L661.25,229.58L659.17,230.42L657.08,229.17L655,228.33L652.92,229.17L650.83,230L649.17,229.17L650.42,226.67L652.5,225.42L655,224.58L657.08,224.17L657.92,222.08L657.5,220.42L659.58,220.83L661.25,218.75L660.83,215.83L660,212.92Z"/>
<path class="lyg" d="M653.33,230L655.83,229.17L657.5,230L656.25,231.67L654.17,231.67Z"/>
<path class="lyg" d="M646.25,231.25L647.92,229.83L650,230L651.25,231.67L652.5,234.17L651.67,236.67L650,236.25L649.17,234.17L647.92,232.92Z"/>
<path class="yor" d="M667,347.6L663,350L659,355L654,354L648,358L643,362L638,368L630,371L623,374L620,377L619,383L617,387L619,393L618,400L615,405L614.4,408L620,409.6L626,407L634,404L642,402L650,401L656,403L659,407L662,409L665,404L664,409L665,415L670,418L676,419L680,417L683,416.4L688,413L692,409L696,405L700,400L703.6,394L705.6,389L705.6,383L703,377L700,370L695.6,364L695,357L692.4,355L691,351L689.6,346.4L687,354L685,360L682,364L677,360L673,357L675,353L676,349L669,349Z"/>
<path class="yor" d="M668,425L672,424L677,424.4L675,428.4L671,431.6L667.6,431L667,428Z"/>
<path class="red" d="M688,325L692,326.4L697,330L700,333L702.4,335.6L700,336.4L703,340L707,343.6L709,345.6L705,344.4L700,341.6L696,340L692,342L688,341.6Z"/>
<path class="red" d="M704.4,332.4L708,331.6L712,330L714,327.6L711,324.4L715.6,326.4L716,329L713,332.4L708,334L705,334Z"/>
<path class="red" d="M719,331L720.4,331.6L722.4,335L721.2,335.6L719.6,333Z"/>
<path class="red" d="M723.2,335.6L724.8,336.4L726,338L724.4,337.4Z"/>
<path class="red" d="M727,337.2L730,338.8L731.2,340.4L728.8,339.6Z"/>
<path class="red" d="M730.4,341.6L732.4,342.4L733.6,344L731.6,343.4Z"/>
<path class="red" d="M733.2,344.4L734.8,345.2L735.2,346.6L733.8,345.8Z"/>
<path class="red" d="M743,356L744.4,357L745,361L743.6,360Z"/>
<path class="red" d="M766,364L769,363L770,365L767,366Z"/>
<path class="red" d="M770,361L773.6,360L773.6,361.2L770.4,362Z"/>
<path class="blue" d="M739,408.4L741,408L741.6,412L744,415L747,416.4L744.4,419L741,420L739,423L736,425.6L732.4,426.4L733.6,423L736.4,420L738.4,417L739.6,413Z"/>
<path class="blue" d="M731,423.6L729.6,426L724,429L720,432L716,435L711,439L707,439.6L705,437.6L710,434.4L716,431.6L721,428.4L726,425Z"/>
</g>
<g class="top">
<path class="red" d="M47,151.5L51,149L56,145.5L60.5,142.8L62.5,145L63.5,147L67.5,147.2L68,149L65,149.8L61.5,150.5L59.5,152.5L56.5,152.8L54.5,150.5L51.5,150L48.5,151.5Z"/>
<path class="red" d="M67.5,138.5L70,137.2L72.8,137L72,138L69,138.8Z"/>
<path class="yor" d="M81.5,143L85,142L90,141L96,139L102,138L108,137.2L112,138.8L118,139.5L125,140L127.5,140.3L104,162.5L100,162.5L96,161.8L92,161.2L89,163L84.5,164.5L81.5,165.2L83,163.5L87,161.5L89,160L85,161L81,163L78,164.5L76,166.5L73,168.5L69,170L64,171.5L58,173.5L51,175.5L44,176.8L44.5,176L51,174.5L58,172.5L64,170L68.5,168L70,166.5L66,166.5L63.5,165.5L61.5,166.5L61,165.5L63,164.5L60.5,163.5L60,161.8L61.5,159.8L65,158L69,156.8L73,155.2L77,154L79.5,152.8L76,152.8L72,152.5L70.2,151.5L71,150L75,149L80,148.5L83,147.5L82.5,145Z"/>
<path class="yor" d="M104,162.5L106.5,165.5L110,164.5L112.2,164.5L112.8,167.5L112,170L113.8,173L112.5,174.8L110.5,174.5L111,171.5L110,168.5L108,167L106,167L105,164.5Z"/>
<path class="yor" d="M70.5,170L74,168.5L77,168L76.5,169.2L73.5,170.2L71,171Z"/>
<path class="yor" d="M57,154.5L59.5,154.3L61.5,155.5L59.5,156L57.5,155.5Z"/>
<path class="yor" d="M55,162.5L58,162L58.5,163L56,163.7Z"/>
<path class="blue" d="M103.5,178L106.5,177L106,179L104.5,182.5L103.2,181Z"/>
<path class="blue" d="M127.6,141L135,141.4L143,140.6L152,139.4L157,140.6L162,141L167,142L170,144.6L176,145L180,143.6L188,143.6L194,142.6L199,144L203.12,142.75L205,138.12L208.75,136.5L211.25,138.12L211.88,141.88L215,145L220,141.88L225.62,141.25L226.88,143.12L223.12,146.25L217.5,148.12L213.75,150L210,153.12L207.5,154L202.5,155.62L196.25,159.38L191.25,162.5L187.75,165L189.38,169.38L193.75,170.25L198.75,173.12L203.75,175L203.12,178.75L203.5,183.12L203.33,182.92L205,184.58L207.08,182.92L208.33,180L208.75,176.67L211.67,175L215.83,172.5L217.92,168.33L217.08,165L217.5,166.88L219.38,162.5L221.88,158.75L225,157.5L230,158.12L233.75,160L235.62,162.5L234.38,165L237.5,166.88L241.25,163.75L244.38,163.12L245.62,168.75L250,173.75L253.75,178.75L246.25,170L249.17,174.17L252.5,176.25L254,179.58L252.92,182.92L252.5,184L248.33,185L244.17,186.83L240,187.67L235,187.33L230.83,187.5L227.5,188.75L224.17,190.42L220.83,192.92L218.33,195.42L220,195.17L223.33,192.5L228.33,190.17L231.67,190.42L232.92,191.67L230.83,193.75L230.42,195.83L232.08,197.5L235,197.92L237.5,197.08L239.17,195.83L240,198.33L236.67,200L231.67,201.67L228.33,203.5L225.83,204.33L225,202.92L226.67,200.83L228.75,200.42L227.08,199.83L224.17,200.42L223.75,195.17L218,197.4L212,200.6L204,203L199,204.6L194,207L188,209L191.6,204.6L190,199L186,194L180,193L171,191.4L113,191.4L114.5,190L112,187L109.5,185L110.5,182L110,178L110.5,174.5L112.5,174.8L113.8,173L112,170L112.8,167.5L112.2,164.5L110,164.5L106.5,165.5L104,162.5Z"/>
<path class="blue" d="M106.5,186.5L109,186L112,188L114.5,190.5L110,189.8L107,188Z"/>
<path class="blue" d="M242.5,193.33L245,190L248.33,186.25L252.5,184.17L251.67,185.83L250.42,187.92L253.33,188.75L255.42,190.42L256,193.33L254.58,196.5L252.92,196.25L252.5,194.58L250.42,195.42L249.17,194.58L246.67,194.17L242.5,193.75Z"/>
<path class="blue" d="M216.88,135.62L221.25,133.12L227.5,132.5L232.5,133.12L235,134.38L241.25,135L245,136.88L250,139.38L251.25,143.12L256.25,146.88L251.25,150.62L248.12,149.38L246.88,152.5L248.12,155L244.38,158.12L241.25,156.88L236.25,155.62L230,153.75L225.62,153.12L226.25,151.25L232.5,150L236.88,147.5L238.5,145L236.25,142.75L231.88,140.62L226.25,140L221.25,140L217.5,138.75Z"/>
<path class="blue" d="M231,145.62L233.12,144L235.25,144.38L233.5,146.5Z"/>
<path class="blue" d="M208.75,153.75L213.75,149.75L217.5,151.25L220.25,154L216.5,155L212.5,154Z"/>
<path class="blue" d="M211.88,157.25L215,156L216.5,156.88L213.12,158.25Z"/>
<path class="blue" d="M168.75,136.88L173.75,134.38L180,135L187.5,134.38L193.75,132.5L196.25,133.12L192.5,135.62L193.75,139.38L195,140.62L190,142.75L185,142.25L180,143.12L173.75,142.75L169.38,141.25L173.75,140L169.38,138.75Z"/>
<path class="blue" d="M159.38,136.25L163.75,133.12L168.75,131.25L176.25,131.5L180,133.12L173.75,134L168.75,136.5L163.75,137.75L160.62,137.75Z"/>
<path class="blue" d="M199.38,134.38L203.12,132.5L208.12,132.25L206.25,135L203.12,136.88L201.25,136.5Z"/>
<path class="blue" d="M210,133.12L215,131.88L218.75,132.5L215.62,135L211.5,135.62Z"/>
<path class="blue" d="M196.88,140.62L201.25,139.75L203.12,141.88L199.38,142.88L197.5,142.25Z"/>
<path class="blue" d="M175.62,126.88L181.25,125L188.75,124.38L186.25,126L180,127.5Z"/>
<path class="blue" d="M181.25,128.75L186.25,127.5L192.5,126.5L198.75,126.88L200,128.75L193.75,130L186.25,130.25Z"/>
<path class="blue" d="M194.38,123.5L198.12,122.25L201.5,122.5L197.5,124.38Z"/>
<path class="blue" d="M205.62,129L210,126.88L213.75,126.5L213.12,128.75L208.75,130Z"/>
<path class="blue" d="M208.12,122.25L211.25,121.5L215,122.5L212.5,123.5Z"/>
<path class="blue" d="M217.5,122.5L220,122.25L221.88,123.75L218.75,124Z"/>
<path class="blue" d="M213.75,129.75L216.25,128.75L217.5,130L215,131Z"/>
<path class="blue" d="M220,126.88L225,126L232.5,126.25L238.75,128.12L238.12,130L231.25,130.62L225,130.25L220.62,128.75Z"/>
<path class="blue" d="M224.38,120L228.75,118.5L235,118.12L238.75,116.88L247.5,115.62L255,115L260,115.25L264,114.8L277,115.4L274,117.2L266,119L258,121.4L250,124.4L247.5,125L242.5,126.25L236.25,126.25L230,126.88L228.12,125.62L235,123.75L238.12,121.88L232.5,122.5L226.88,123.12L225,121.5Z"/>
<path class="blue" d="M255,124L264,121.6L276,118L290,116L302,115L318,114.4L330,115L340,117.6L337,120L333,126L330,130L327,134L325,138L322,140L314,143L308,145L300,149L292,152L287,157L284,161L281,163L277,161L273,158L270.6,153L270.6,147L273,143L272,139L274,135L270,130L266,127L258,126Z"/>
<path class="blue" d="M321.4,149L328,148L336,147.6L339,150L337,153L330,154.4L324,153.6L321.4,151.4Z"/>
<path class="yor" d="M115,191.4L172,191.4L181,193L187,194L191,199.4L192,204.6L188.4,209L194,207.4L200,205L206,202.6L213,200.6L219,197.4L222.4,195.4L224.4,196L224,200L220,203L216,206.4L215.4,208.4L212,210L207,211.4L204,214L202,216.4L200,220L198.4,222L198.8,225L195,228.4L190,231.4L186,234L183.4,237L183.4,242L184,246L184.2,250L182,252.6L180,251L179,246L177.6,242L175,239.4L170,238.6L165,238.6L160,241L155,240.6L150,243L147,246L144.4,250L142.4,248.6L140,244L137,240L133,242L130,237.4L127,234L122,235L116,234L111,232.6L105.6,232.6L103,230L100,225L99,219L99,214L101,209L104,204L107,199L110,194.6L112,192.6Z"/>
<path class="yor" d="M105.6,232.6L111,232.6L116,234L122,235L127,234L130,237.4L133,242L137,240L140,244L142.4,248.6L144.4,250L143,255L142.4,261L143.6,265L143.5,265L145.5,268.5L149,270.5L154,270L157,268L158.5,265L160.5,262.5L164,261.8L166.8,262.2L165.8,264L164,266.5L163,269L161.5,270L160,271.5L157.5,271.5L155.5,272.5L155,274.5L153.5,276.5L152.5,279L151,277.5L148,275L144,276.5L140,276L135,273L129,269L125,264L124,259L121,253L118,247L115,242L113,237L111,234L109.6,236L110,240L111,245L113,250L115.6,255L116.4,258L114.4,257L111,251L107.6,244L106.4,238Z"/>
<path class="red" d="M152.5,279L153.5,276.5L155,274.5L155.5,272.5L157.5,271.5L160,271.5L161.5,270L162.8,269.5L162.2,272.5L161,275L160.5,276.5L163,276.5L166,276L170,276.2L172.8,278.5L172.5,281.5L172,285L171,288L170,289.5L166.2,289L164.5,286.2L163,284L161.5,283.3L158.5,282.5L156,281.5L153.5,280.5Z"/>
<path class="orange" d="M157.2,281.8L158.5,281L161,281.8L161.8,283L160,283.3L158,282.8Z"/>
<path class="blue" d="M166.2,289L170,289.5L171.5,291.5L172.8,293.5L172.5,296.2L171.2,295.8L170.5,294L168.5,292.8L166.5,291.5L165.8,290Z"/>
<path class="lyg" d="M172.8,293.5L174.5,294.5L176.5,295L178.5,293.5L181,292.8L183.5,294L185,296L184.5,298L183.5,297.5L183,295.5L181,294.5L179.5,295.5L178.5,297.5L177.5,299L175,297.5L173,296.5L172.5,295Z"/>
<path class="lyg" d="M171.2,260L174,258L178,257.2L182,257.8L185,259.2L188,261.5L192,263.5L194.8,264.5L194.5,265.5L191,265.8L188,265.5L187.5,264L185,262L182,260.5L178.5,259.2L175,259.5L172.5,260.8Z"/>
<path class="red" d="M185,270L187.5,269.5L189.5,270.5L188,271.5L185.5,271Z"/>
<path class="red" d="M194,269.5L197,269L196.5,266.8L200,266L204,266.5L206.5,268.5L207.8,269.8L205,270.5L202,270.2L200.5,271.8L199,270.5L196,271L194,270.5Z"/>
<path class="none" d="M209.8,269.8L213.5,269.5L213.8,270.8L210,271Z"/>
<path class="red" d="M186.4,248.2L189.6,248.2L190,249.6L187.4,249.2Z"/>
<path class="red" d="M187,252.4L188.2,252.4L188.8,255.6L187.8,255.2Z"/>
<path class="red" d="M187.2,255L189,255L188.8,255.9L187.6,255.8Z"/>
<path class="red" d="M221.95,271.8L222.45,271.8L222.45,272.6L221.95,272.6Z"/>
<path class="red" d="M222.35,277.2L222.85,277.2L222.85,278L222.35,278Z"/>
<path class="red" d="M222.95,281.2L223.45,281.2L223.45,282L222.95,282Z"/>
<path class="red" d="M222.35,283.2L222.85,283.2L222.85,284L222.35,284Z"/>
<path class="red" d="M221.25,286.1L221.75,286.1L221.75,286.9L221.25,286.9Z"/>
<path class="red" d="M221.8,290L223.2,289.8L223,291.6L222,291.4Z"/>
<path class="yor" d="M8.8,265.6L10.4,264.8L12,267.2L10.4,268.8L8.8,267.6Z"/>
<path class="yor" d="M5.2,261.2L6.8,261.6L8,262.8L6.8,262.8Z"/>
<path class="yor" d="M2,259.6L3.2,259.6L3.2,260.6L2,260.6Z"/>
<path class="red" d="M305,273.2L306.2,273.2L306.2,274L305,274Z"/>
<path class="red" d="M309.4,274.6L310.6,274.6L310.6,275.4L309.4,275.4Z"/>
<path class="red" d="M307.8,278L309,278L309,278.8L307.8,278.8Z"/>
<path class="line" d="M160,271.5L160.5,276.5L159,279.5L158.5,281"/>
<path class="line" d="M160.5,276.5L163,276.5"/>
<path class="line" d="M161.8,283L164.5,282L167.5,280L170,279L172.8,278.5"/>
<path class="blue" d="M185.6,295L188,291L192,288.4L197,286L199.6,285.6L198.4,289L203,287.6L208,289.6L213,290.4L218,290L222,291L224,293L227,297L230,301.6L234,303L239,303.6L243,305L245,308L247,313L248,317L252,319L258,321L261,324L268,325L274,327L279,331L282.4,335L282.4,340L279,346L276,351L274,355L274,360L273,366L271,372L269,376L264,378L259,380L256,384L254,389L254.4,394L252,397L249,401L247.05,405.25L243.55,409.1L238.89,408.16L237.14,407.58L240.05,411.08L240.87,414.58L238.89,418.07L234.22,419.82L230.72,420.76L231.31,423.9L229.56,425.07L225.48,425.07L227.22,427.4L229.91,428.57L227.22,430.9L227.81,434.4L224.89,436.73L224.31,439.06L227.81,440.23L229.21,442.56L227.81,444.89L226.64,448.39L225.48,450.72L227.22,453.06L230.14,455.97L233.64,458.3L237.14,460.05L234.8,461.22L231.31,461.8L226.64,460.63L221.98,458.89L217.9,455.97L214.4,452.47L211.48,447.81L209.73,443.14L210.9,440.23L207.99,439.06L209.15,434.98L207.99,433.23L210.55,432.07L210.32,428.57L207.4,430.9L206.24,425.07L205.89,420.41L204.25,415.16L205.42,411.66L205.42,405.83L205.07,400L204.4,394L205,388L206,380L204.4,372L203,366L200,364L194,360L189,356L187,352L183.6,346L180,339L177,333L176,329L178.4,327L177.6,323L176.4,320L177.6,316L181,312L183.6,308L185,303L184.4,299Z"/>
<path class="red" d="M200.6,288L203,287.6L208,289.6L213,290.4L218,290L222,291L224,293L227,297L230,301.6L230.4,304L229.6,307L230.4,310L231.6,313L229,314.4L226,313L225.6,308L223.6,305.6L220,307L216,308L214.4,312L212.4,316L210,315.6L208,312L208,308L207,303L203,301L199,299L196,296L195.6,293L197,290L199,288.4Z"/>
<path class="white" d="M198,291L199.4,290.4L199.8,293.6L198.4,294.4Z"/>
<path class="lyg" d="M230,301.6L234,303L239,303.6L238,308L237,311.6L234,313L231.6,312L230.4,309L229.6,306Z"/>
<path class="none" d="M239,303.6L243,305L245,308L242,311.6L239,312L237.6,310L238,307Z"/>
<path class="orange" d="M176,329L178.4,327L181,325L185,323L190,319L193,322L197,324.4L201,325.6L200,329L196,332L194,336L195,340L198,343L201,344L205,347L204.4,354L205,360L204.4,366L200,364L194,360L189,356L187,352L183.6,346L180,339L177,333Z"/>
<path class="red" d="M221.88,370L223.75,368.88L227.51,368.35L229.76,368.88L231.63,370.75L232.01,373.38L233.13,375.26L235.76,375.63L237.63,377.13L238.01,380.13L240.26,380.88L241.01,383.88L240.63,386.88L239.51,389.13L237.26,390.11L234.26,389.88L232.16,388.76L233.13,386.51L233.88,384.63L232.01,383.51L229.01,381.63L226.01,379.38L223.38,377.51L221.88,375.63L221.5,372.63Z"/>
<path class="line" d="M224.4,294.4L223,299L224,305"/>
<path class="line" d="M177.6,316L182,315L187,317L190,319"/>
<path class="line" d="M210,315.6L207,314L203,314L202,319L203,325L201,325.6"/>
<path class="line" d="M205,347L209,344L213,344L214,349L220,352L225,355L224.5,355L225.26,359.5L229.76,360.63L230.88,363.25L232.76,365.5L232.01,368.5L230.88,369.25"/>
<path class="line" d="M205,365.5L206.88,368.88L208.38,373.75L210.63,377.51L212.5,375.63L215.5,375.26L217.75,377.13L220,375.26L221.65,375.11"/>
<path class="line" d="M210.63,377.51L212.13,379.01L210.25,382.01L209.5,386.51L210.25,388.76L208.38,392.51L207.63,397.01L207.25,400.01L207.99,400L209.73,404.66L209.15,411.66L211.48,418.66L210.9,423.32L213.23,430.32L215.56,436.15L216.15,441.98L215.56,447.22L218.48,451.31L223.14,453.64L227.81,453.64L224.89,454.8L224.31,457.72"/>
<path class="line" d="M241.01,383.88L243.26,386.51L242.88,388.01L240.26,391.01L237.26,394.01L235.76,396.26L235.01,399.26L235,406L237,410"/>
<path class="line" d="M235.76,396.26L238.76,397.76L241.76,399.26L247,404"/>
<path class="none" d="M501,445L504.4,444.4L505.2,446.4L502,447.6Z"/>
<path class="green ns" d="M390,187L400,188.5L409,189.5L410,193L409,200L404,205L396,200L392,197L384,196L380,194L378,191L380,190L388,190Z"/>
<path class="blue" d="M372.5,158.5L374,157L378,155.5L381,153.5L384,150.5L387,147L391,143.5L396,140.5L402,138.5L409,137.8L413,139L414.5,140L411.5,142.5L410,140.5L406.5,141.2L405,143.5L402,142L399,142.5L397,142.5L394,144L391,145.5L389,148.5L387,151.5L385.5,154.5L384.5,157L385.5,160L385,163L383.5,165.2L382,166L380,166.5L377.5,167.8L375,167.5L373,165L372.2,162Z"/>
<path class="green" d="M399,142.5L397,142.5L394,144L391,145.5L389,148.5L387,151.5L385.5,154.5L384.5,157L385.5,160L385,163L383.5,165.2L384.5,168.5L386,171.5L388,174L390,174L392,172L393.5,169L394.5,166.5L397,164.5L397.5,162.5L395.5,160.5L394.5,158.5L396,156L399,153.5L401.2,151L403.2,148L402.8,145L401,143.5Z"/>
<path class="blue" d="M399,142.5L402,142L405,143.5L406.5,141.2L410,140.5L411.5,142.5L413.5,145L414.5,148.5L416.5,152.5L417,155L419.5,157L418,159L415.5,161L412,162L409,163L405.5,163.5L403,161.8L401.2,159L401.5,156.5L404,154.5L406.5,151.5L406,150L403.2,149.5L403.2,148L402.8,145L401,143.5Z"/>
<path class="green" d="M406.5,165L410,164.2L415,164.5L414.5,167.5L414.8,169L412,168.5L409,167.5L406.5,166.5Z"/>
<path class="lyg" d="M403.5,170L406,169L408.5,169.5L410,168.5L412,168.7L414.8,169.2L416.5,171L416,173L413.5,172.5L410,172L406,172L403.5,172Z"/>
<path class="green" d="M403.5,172.5L406,172.2L410,172.2L413.5,172.8L414.5,174L412.5,176.5L410,178L408.5,177L407,175.5L404,175Z"/>
<path class="red" d="M401.2,176.2L402.5,175.2L405,175.2L406.8,175.8L407.2,177L404,177.2L401.5,177Z"/>
<path class="green" d="M414.5,174L416.5,173L416,173L419,173.5L422,175L424,177L425,178.5L426.5,179.5L425,181L425.5,182L425,182L424,184.5L417,184.5L411,182L409,183L410.5,182L410,179L410,178L412.5,176.5Z"/>
<path class="green" d="M391,179L394,177L397.5,176L401.2,176.5L404,177.2L407.2,177.2L409,178L410,179.5L410.5,182.5L410,184.5L411,187L409.5,189L406,188.5L402,188L399,187.5L396,186L393.5,185L391.5,183L390.8,181Z"/>
<path class="blue" d="M377.5,179L379,177.8L380,176L383,177L385.5,177.8L388,177L390.5,178L391,179L390.8,181L391.5,183L392,185L390,186.5L389,188.5L390,191L389,192.5L386,193.8L383,193.5L380,193L378.5,190L376.5,189.5L375.8,186L376.5,184L376.5,181Z"/>
<path class="blue" d="M378.5,171L380,169.5L382.5,169L382.8,171L382,172.5L381.5,174.5L380.5,176L379.5,176.2L378.8,174Z"/>
<path class="blue" d="M384,173.5L386,173L387,174L386.2,175.5L384.5,175.2Z"/>
<path class="green" d="M371.8,181.5L373.5,179.8L376,179L377.2,179.2L376.5,181L376.5,183.5L375,184.8L373.5,184L372,183.5Z"/>
<path class="blue" d="M369,184.8L371.8,183.8L373.5,184.2L375,185L375.2,187.5L373.5,188L371,187L369.2,186Z"/>
<path class="green" d="M352,169.5L353.5,167L356,166.2L358,166.5L357,168.5L359,169L358.5,171.5L360,174L361.5,177L364,179.5L366.2,181.5L365.8,184L363.5,185L360.5,185.5L357,186.5L353,188L351.5,187.2L355,185L356.5,183.5L353.5,183L353,181.5L356,180L355.5,178L356.5,176L354.5,175L353.5,173L352,172Z"/>
<path class="green" d="M348.5,176L350,175L351.8,175.8L351.5,177.5L349.5,177.8Z"/>
<path class="blue" d="M344,179L346,176.5L348.5,175.5L349,177.5L351,178L350.5,180.5L349,182.5L345.5,183.5L343,183.5L344.5,181.5Z"/>
<path class="blue" d="M354,192L356.5,191L359,190.5L359.2,188.8L361.5,188.5L364,186.8L366.2,185.5L369,185L369.2,186.2L371,187L373.5,188L375,188.5L376.5,189.5L378.5,190L379,191.5L377.5,193.5L376,195L376.5,197.5L378.5,198.5L377,199.5L377.5,201.5L378,204L375.5,205L372,204.5L370,205.5L369,207.2L366,206.8L362.5,205.8L359,204.5L359.5,203L360,199.5L360.5,196.5L359.5,194L356.5,193.5L354,192.8Z"/>
<path class="blue" d="M381.2,206.5L382.5,205.8L383,208L382.2,209.8L381.2,209Z"/>
<path class="green" d="M380.5,211.5L382.5,211L383.8,212.5L383.5,215.5L381.5,216L380.5,214Z"/>
<path class="blue" d="M344,205L347,204L351,204L355,204.5L359,204.5L362.5,205.8L366,206.8L369,207.2L368.5,209L365.5,210.5L363.5,212.5L362.5,215.5L361,218L359,220L356.5,222L353.5,222.5L351,224L349.5,222.5L348.5,221L347,220.5L344,221L343.8,218L342.8,216L343.5,213L344.5,210.5L344.5,208L343.8,206.5Z"/>
<path class="line" d="M344.5,208L346.5,208.5L349.5,209L349,211L347.5,213.5L347,216L347.5,218.5L347,220.5"/>
<path class="green" d="M377.5,201.5L377,199.5L379,198.5L382,197.8L384,196.8L387,196.5L390,197L392,197.8L391.5,199.5L390,200L389,201.5L390,204L392,206.5L394.5,208.5L398,210.5L401,212L402.2,213.5L400,213.5L398.5,214L399.5,216L399,218.5L397.5,218L397,215.5L395,213L392,210.5L389,208L386.5,206L385,204L382.5,203L380,203.5L378,204Z"/>
<path class="green" d="M390,219L393,218.5L396,218.2L395.5,220.5L394.5,222L391.5,221L390,220Z"/>
<path class="blue" d="M376,195L378.5,194L382,194L384,195L383.5,196.5L382,197.8L379,198.5L376.5,197.5Z"/>
<path class="green" d="M383.5,195L386,193.8L389,192.5L392,191L395,191.2L397.8,192.5L398,194L396.5,196L393,196.8L390,197L387,196.5L384,196.8Z"/>
<path class="lyg" d="M388,188L391,186L394,185.5L396.5,186.5L399,187.8L400,189.2L398,190.5L395,191.2L392,190.8L389.5,190Z"/>
<path class="lyg" d="M398,190.5L400,189.5L404,189.5L408,190L407.5,191.8L404,192.5L400,193L397.8,192.5Z"/>
<path class="red" d="M396.5,195L398,193.5L401,193L404.5,192.5L408,192L409,193.5L407.5,196L405,197.5L401.5,198.5L398.5,198L396.5,196.5Z"/>
<path class="green" d="M391.5,197.8L394.5,197L396.5,197.5L395.5,199L393,199.5L391.5,199.2Z"/>
<path class="green" d="M393,199.5L395.5,199L397,197.8L400,198.8L402.5,199L402,200.5L399,200L397,200.5L396,201.5L398,204L400.5,206.5L403,208L401.5,207.5L398.5,205.5L395.5,203L393.5,201.5Z"/>
<path class="lyg" d="M396,201L397.5,200.5L400,200.2L402.2,200.8L403.5,202.5L403,205L402,206.5L400,205.5L398,203.8Z"/>
<path class="green" d="M402.5,199L405,197.8L407,198.5L409,201L410,203.5L410.5,205.5L409,207.5L406.5,207.2L405.5,205.5L404,204.5L403.5,202.5L402.5,200.5Z"/>
<path class="lyg" d="M402,206.5L403.2,205L404.8,205.5L405,207.2L404,208.2L402.8,207.8Z"/>
<path class="none" d="M405.8,205.8L407.5,206.2L408,207.5L406.5,208Z"/>
<path class="red" d="M404,208.2L405,207.5L406,208.5L406.8,210.5L407.2,212.5L406,214L404.8,213.5L404,211Z"/>
<path class="lyg" d="M406.8,208.5L409.5,208L411.2,209L410.5,210.5L408,211L406.8,210.5Z"/>
<path class="blue" d="M406,214L407.2,212.5L408,211L410.5,210.5L413.5,210L417,209.5L419,209L418.5,210.5L416,210.8L414,212L413,214L412,215.5L414,217.5L415,219.5L413.5,220.5L412.5,222.5L411,222L409.5,220L408,217.5L406.5,215.5Z"/>
<path class="blue" d="M414,225.2L417,225.5L420,226L419.5,226.8L416,226.5L414.2,226Z"/>
<path class="blue" d="M433.2,226.2L435,225.5L437.5,224.5L437,226L435.5,227.5L433.8,227.5Z"/>
<path class="lyg" d="M406.5,196.5L408.5,194L411,193L414,193L417,192L418.5,194L420,196.5L421.5,198.5L423,198.8L423.5,200.5L422.5,202.5L421,203.2L417.5,203.5L413.5,203.2L410.5,203.5L408.5,201.5L406.5,199Z"/>
<path class="red" d="M410.5,204L413.5,203.5L417.5,203.8L421,203.5L422,205L421,207L420,208.5L418.5,209.5L416.5,210L413.5,210L411.2,209L410.5,207Z"/>
<path class="green" d="M409,183L411,182L417,184.5L424,184.5L425,182L430,182L431.5,184.5L434,185.5L438,187L441.5,188.5L443.5,190L443.5,192.5L441.5,194L438.5,195L436,196.5L439,196.5L442.5,195.5L442,196.5L439.5,198L437,199.5L435,199L435,201.5L433,201.5L431.5,200L431.2,198L429,197L426.5,196.5L425,197.5L424.5,199L423,198.5L421.5,195L419.5,192.5L417,192L414,193L411,193L409,192L408.5,190L409.5,188L409,185.5Z"/>
<path class="green" d="M417,192L419.5,192.5L421.5,195L423,198.5L421.5,198.5L420,196.5L418.5,194Z"/>
<path class="lyg" d="M419,209L420,208.5L421.5,209L422.5,210.5L421,211.5L419,211Z"/>
<path class="lyg" d="M420,214.5L421.5,212.5L424.5,211.5L429,209.5L433,208.5L437,209L441,210L445,210.5L449,210L452,209.5L455,210L456,211.5L458,213.5L459.5,215.5L459,217.5L459.5,219.5L459,221L456,220.5L453,221L449,221.5L445,222L442,222.5L440.5,223.5L439.5,222L437,222L434,223L431,222.5L428,223.5L425,222L422,220L420.5,218L419.8,216Z"/>
<path class="lyg" d="M441,236L441.5,233L443.5,233.5L446.5,232L448.2,231.2L449,234L446.5,235.5L444.5,237L445.5,238.5L443.5,240.5L441,241.5L440,241L440.8,238.5Z"/>
<path class="green" d="M439.8,231L441,230.5L441.5,233L441,236L440.8,238.5L440,241L439.2,237.5L439,234.5Z"/>
<path class="lyg" d="M440.8,228L442.2,227.5L442,230L441,230.7Z"/>
<path class="blue" d="M378.07,120.71L380.71,120.05L384.83,120.3L387.71,119.47L391.42,119.23L395.54,118.9L399.65,119.23L401.71,120.05L398.83,120.71L393.89,120.54L391.83,121.12L392.24,122.36L390.43,123.59L389.36,124.83L387.71,126.06L384.83,125.49L382.36,124L379.88,122.77L378.24,121.53Z"/>
<path class="blue" d="M394.3,123.18L397.18,123.01L399.24,124L398.01,124.66L394.71,124.42Z"/>
<path class="red" d="M351.5,224L354,225L357.5,225.5L360,224.5L364,222.5L369,221.8L375,221.5L380.5,221.2L384,220.2L386,221.5L385.5,224L387,226L387.5,229L388.5,231.5L392,232.5L396,233L400,235L404,237L406,238.5L408,236L410,234L414,233.5L417,234.5L420,235.5L425,236L431,236.6L436,235L439.9,240.6L439.6,244L438.3,245.4L439.25,248L442.25,253L443.1,255.5L442.9,257L443.5,258L445.5,260L446.5,263L447.25,267L448.5,269.5L451.25,272.92L452.5,275.83L455,278.33L457.92,281.25L460,283.75L461.67,285.83L461.5,287.92L463.33,290L465.42,290.42L468.33,289.58L472.5,288.5L476.67,287.5L480,286.5L480.42,289.17L479.58,293.33L477.92,297.5L475.83,301.67L473.33,305.42L470.42,309.17L467.5,312.5L464.17,315.83L460.83,319.58L460,321L458.33,321.67L455,328.33L453.33,331.67L452,336.67L453.33,341.67L455.33,346.67L455.83,353.33L454.67,359.17L451.67,362.5L446.67,365.83L443,369.17L441.67,373L443.33,376.67L443,380L439.17,382L435.83,384.17L436.33,386.67L435.33,390L432.5,395L428.33,399.67L423.67,403.33L417.5,405.83L410.83,407L405.83,408.33L403.33,405.83L404.17,402.5L402.5,398.33L400,392.5L398.67,390L396.67,383.33L394.17,375L391.67,368.33L389.67,363L390,360L391.67,353.33L393.33,347.5L392.5,341.67L391.67,335.83L389.17,330L385.83,325L383.33,320L385,319L386,313L385,308L382,306L378,306L375,304L370,301.4L363,303L357,304L350,305L345,306L340,302L335,298L331,294L327,289L324.4,284L323,279L325.6,273L326,267L325,262L327,258L330,252L334,247L339,243L342,238L344,232L347,229L350,225.5Z"/>
<path class="lyg" d="M381,221L384,220.2L386,221.5L385.5,224L387,226L387.5,229L388.5,231.5L387,233.5L385,235.5L384.5,239L383.5,237.5L382.5,234.5L380,232L379.5,229.5L380.5,227L380.8,224Z"/>
<path class="none" d="M334,245.75L343.25,245.75L343.25,250L336.5,250.25L335.75,257L333.5,257.25L333.25,262L324.5,262.25L326,258.5L328,255L330,251.5L332,248.5Z"/>
<path class="orange" d="M344,292L350,291L355.6,292L357,297L356,304L350,305L345.6,305.4L344.4,299Z"/>
<path class="orange" d="M433,310L437,308.6L442,308L442.4,313L441,320L432,320.6L431.6,315Z"/>
<path class="orange" d="M442,308L445,304.6L450,307.4L457,307.4L458,312L456,317L458,321L453,329.4L448,326L441,320.6L442.4,313Z"/>
<path class="lyg" d="M389.67,363L398.33,363.67L409.17,364.17L415.83,363.67L419.17,363.33L420,364.17L415.83,365L410,365.33L410.33,375L408,375.83L407.5,386.67L406.67,392L404.17,393.33L400.83,392.5L398.67,390L396.67,383.33L394.17,375L391.67,368.33Z"/>
<path class="blue" d="M410.33,365.33L415.83,365L420,364.17L423,369.17L428.33,374.17L425,376.67L421.33,380L419.17,383.33L415,385.33L412.5,385.83L410.33,388L408.67,386.67L407.67,384.67L407.83,375.83L410.33,375Z"/>
<path class="green" d="M400,392.5L404.17,393.33L406.67,392L407.5,386.67L408.67,386.67L410.33,388L412.5,385.83L415,385.33L419.17,383.33L421.33,380L425,376.67L428.33,374.17L433.33,375.83L435.83,384.17L436.33,386.67L435.33,390L432.5,395L428.33,399.67L423.67,403.33L417.5,405.83L410.83,407L405.83,408.33L403.33,405.83L404.17,402.5L402.5,398.33Z"/>
<path class="green" d="M422.5,395L425.83,392.5L428.33,394.67L425,398Z"/>
<path class="green" d="M431.67,386.67L433.33,384.67L435,387L433.33,389.17Z"/>
<path class="orange" d="M455.33,346.67L455.83,353.33L454.67,359.17L451.67,362.5L446.67,365.83L443,369.17L441.67,373L443.33,376.67L443,380L439.17,382L435.83,384.17L433.33,375.83L436.67,371.67L438.33,366.67L437.5,360.83L432.5,357.5L435,355.83L438.33,354.67L441.67,355.83L442.5,360L444.17,360.83L444.67,356.67L443,352.5L442,349.17L445.83,348.33L450.83,347.5Z"/>
<path class="red" d="M475.83,349.67L478,355L477.5,360L475,366.67L472.5,373.33L470,380L466.67,384.17L463.33,384.17L461.33,380.83L460.83,375.83L463,370L463.67,362.5L466.67,359.67L470.83,357.5L473.33,353.33Z"/>
<path class="red" d="M461.83,347.67L462.83,347.67L462.83,348.5L461.83,348.5Z"/>
<path class="red" d="M464,349.33L464.83,349.33L464.83,350.17L464,350.17Z"/>
<path class="red" d="M492.6,370.4L493.6,370.4L493.6,371.6L492.6,371.6Z"/>
<path class="line" d="M391.67,332.5L398.33,333L401.67,336.67L407.5,336.33L412.5,337.5L414.17,345L417.5,347.5L412.5,350.83L413,359.17L415.83,363.67"/>
<path class="line" d="M414.17,345L420,348.33L427.5,350.83L430,349.17L428.33,341.67L434.17,339.17L431.67,335.83"/>
<path class="line" d="M420,364.17L424.17,365L428.33,361.67L432.5,357.5"/>
<path class="line" d="M431.67,335.83L438.33,337.5L442,341.67L442,349.17"/>
<path class="line" d="M439.17,342.5L440,350L441.67,355.83"/>
<path class="line" d="M360,227.5L360.83,232.5L355.83,235L351.67,239.17L345,240.83L343.33,245.83"/>
<path class="line" d="M343.33,245.83L350,251.67L360.83,259.17L372.5,268.33L389.17,257.5L385,250L384.17,238.33"/>
<path class="line" d="M350,251.67L349.67,266.67L350.83,277.5L336.67,278.33L335,280L330,277.5L326.67,275"/>
<path class="line" d="M389.17,257.5L395.83,258.33L398.33,257.5L416.67,266.67L420,265"/>
<path class="line" d="M398.33,257.5L397.5,270.83L393.33,277.5L394.17,283.33"/>
<path class="line" d="M372.5,268.33L372.5,275L367.5,278.33L364.17,279.17L359.17,280.83L355.83,284.17L352.5,285.83L350.83,290"/>
<path class="line" d="M394.17,283.33L390,284.17L383.33,283.33L377.5,282.5L373.33,281.67L371.67,285L370,285.83"/>
<path class="line" d="M364.17,279.17L365.83,284.17L370,285.83L365.83,286.67L361.67,288.33L355.83,289.17"/>
<path class="line" d="M325,285.83L331.67,285.83L336.67,284.17L335.83,280.83L335,280"/>
<path class="line" d="M327.5,287.5L332.5,289.17L336.67,293.33L339.17,291.67L343.33,291.67"/>
<path class="line" d="M332.5,293.33L335.83,291.67L338.33,295L336.67,298.33"/>
<path class="line" d="M338.33,295L341.67,298.33L344.17,301.67"/>
<path class="line" d="M355.83,292.5L363.33,290L364.17,296.67L365,301.67"/>
<path class="line" d="M363.33,290L365.83,290L366.67,301.67"/>
<path class="line" d="M365.83,290L370,285.83L370.83,291.67L370,300.83"/>
<path class="line" d="M394.17,283.33L395.83,288.33L393.33,293.33L389.17,297.5L385.83,300L384.17,305L382.5,306.67"/>
<path class="line" d="M394.17,283.33L397.5,293.33L396.67,299.17L400,306.67L403.33,310L396.67,311.33L390,310.83L384.17,310.83"/>
<path class="line" d="M397.5,293.33L403.33,291.67L410,289.17L413.33,285.83"/>
<path class="line" d="M418,235.83L419.67,260L445,260.33"/>
<path class="line" d="M398.33,257.5L416.67,265.83L419.67,265L419.67,260"/>
<path class="line" d="M416.67,265.83L415.83,276.67L413.67,281.67L416.67,288.33L419.17,292.5"/>
<path class="line" d="M419.17,292.5L425,290.83L430.83,292.5L435.83,289.17L438.33,285.83L439.67,290.83L442.5,289.17"/>
<path class="line" d="M446.67,272.5L445,278.33L447,280.83L444.17,284.17L442.5,289.17L440,295.83L443.33,300.83L445,304.67"/>
<path class="line" d="M447,280.83L452.5,280L457.5,282.5L460.83,287.5L459.17,290L462.5,290.83"/>
<path class="line" d="M459.17,290L461.67,293.33L472.5,297.5L467.5,303.33L462.5,306.67L459.17,307"/>
<path class="line" d="M419.17,292.5L422.5,298.33L427.5,304.17L434.17,308.33"/>
<path class="line" d="M398.33,306.67L405,308.33L408.33,305L413.33,304.17L421.67,306.67L427.5,304.17"/>
<path class="line" d="M395.83,298.33L402.5,296.67L409.17,293.33L413.67,290.83L416.67,288.33"/>
<path class="line" d="M434.3,240.2L436,242.5L438.2,245.2"/>
<path class="line" d="M405.83,305.83L404.67,313.33L401.67,320L398.33,325L395,325.83L391.67,330"/>
<path class="line" d="M385,315L389.17,315.83L395,315L395.83,320L396.67,324.17L391.67,325L390,327.5"/>
<path class="line" d="M390,311.67L390,315"/>
<path class="line" d="M395.83,310.83L396.67,305"/>
<path class="line" d="M432.5,310L433.33,316.67L430.83,322.5L430,327.5L431.67,330.83L430.83,336.67L431.67,340"/>
<path class="line" d="M430.83,322.5L434.17,321.67L434.17,327.5L431.67,330.83"/>
<path class="line" d="M432.5,320.83L441.67,320.83L452.5,329.17"/>
<path class="line" d="M441.67,350L448.33,348.33L455,345.83"/>
<path class="red" d="M411.5,142.5L414.5,140.5L418,141.5L422.5,142L428,143L431.5,145L433.5,147.5L430.5,148L426.5,147.5L422.5,147.2L421,148L424,150L426.5,153.5L429,152.5L432.5,151.5L433,149.5L435,148.5L438.5,148L439.5,146.5L437.5,145L437,143.5L439.5,144L441.5,144.5L442.5,146.5L445,146L449,144L454,143L457,143.5L461,142.5L464,142L465,140.8L470,141.5L474,142.2L479,143L477,141L474,139.5L472.5,137.5L474,134.5L478,134.2L480,136L481,138L483,140L485,142L486.5,145L487,148.5L489.5,147L490,146L488,142L485,137L491,135L498,130L508,127L517,125L525,126L534,127.4L538,130L535,131.4L545,132L553,133L563,133L569,135L577,137L583,136.6L589,135L587,133L593,134L601,135L609,136.6L617,138L625,139L635,142L638,141L646,142L650,140L658,141L664,143L670,146L676,150L677,150L679,153L685,157L679,160L677,163L670,162.4L665,164L668,167L673,170L675,175L675.6,180L674,185L668,178L661,172L659,167L660,162L658,158L656,160L650,161L648,164L638,165L632,166L626,168L624,172L625,176L632,177L638,179L641,183L644,189L646,195L645.6,200L643,204.4L639,205.6L637,206L635.6,202.4L638,199L636,193L631,192L625,187L618,183L612,181L604,179.6L600,182L600,188L592,187.6L584,189L576,187.6L567,186.4L559,184L557,187L546,186L539,189.6L536,188L531,186L523,185L515,182L510,178L503,177L496,174.6L487,177L482,181L481.5,181L482.5,183L484.5,184.8L482,185.5L478,185L473,185.5L469,184.5L465,183.5L461,184.5L458,187.5L457,190L458,193.5L461,195.5L462.5,198L460,201L460.5,202.5L462,204L464,206.5L466.5,209L468.5,211.5L469,214L468,217.5L467.5,215.5L466,214L464,214.5L461,216L459.5,215.5L458,213.5L456,211.5L455,210L452,207.5L449,204.5L448,203.5L445,201L443,198.5L442.5,196L441.5,194L443.5,192.5L443.5,190L441.5,188.5L438,187L434,185.5L431.5,184.5L430,182L429,182L425.5,182L425,181L426.5,179.5L425,178.5L424,177L422,175L419,173.5L416,173L416.5,171L414.8,169.2L414.5,167.5L415,164.5L415.8,163L415.5,161L418,159L419.5,157L417,155L416.5,152.5L414.5,148.5L413.5,145Z"/>
<path class="red" d="M446.5,136.5L448,133.5L450,130L448,133L452,129L460,126.4L467,126L465,127.6L458,129.6L454,133L455,136L458,138L457,138L454,138.5L450,137.8Z"/>
<path class="red" d="M493,118.6L500,118L508,120.6L517,122.6L511,123L502,121.4L495,120Z"/>
<path class="red" d="M574,128L579,127.4L587,129L585,130.6L577,130Z"/>
<path class="red" d="M589,129L596,129.4L595,130.6L590,130.2Z"/>
<path class="red" d="M426.84,118.9L430.13,118.24L435.07,118.07L435.9,119.23L432.6,119.72L427.66,119.56Z"/>
<path class="red" d="M493,119L498,118L506,120L509,122L503,121.6L497,120.6Z"/>
<path class="red" d="M639,178L642,180L648,187L655,194L657,198L653,193L648,189L644,185L640,181Z"/>
<path class="red" d="M655,137.2L657.6,137.6L658,138.8L655.6,138.4Z"/>
<path class="red" d="M680,154L682.4,155L686,157.6L683,158L680,158.4Z"/>
<path class="line" d="M449,204.5L453,205.5L457,206.5L461,208L463,209.5"/>
<path class="line" d="M456,211.5L459,212L461.5,210L463.5,212L466,214"/>
<path class="lyg" d="M462.5,198L461,195.5L458,193.5L457,190L458,187.5L461,184.5L465,183.5L469,184.5L473,185.5L478,185L482,185.5L484.5,184.8L482.5,183L481.5,181L482,181L487,177L496,174.6L503,177L510,178L515,182L523,185L531,186L536,188L540,189.4L537,192L537.5,195L534,196L532,198.5L529,200.5L530,203.5L531.5,207L527,206.5L522,206L518,205L515,206.2L512,206.5L511.5,207.5L509,209.5L507,210.5L503.5,209L500.5,205L497,203.5L491.5,203.5L487,201L483,199L478.5,200.5L480,204L480.5,207.5L478.5,210L477,208L475,209L474.5,210.5L472,208L469,205L467.5,201.5L469.5,199.5L472.2,198.5L471.5,196L468,195.5L466,196Z"/>
<path class="green" d="M478.5,200.5L483,199L487,201L491.5,203.5L497,203.5L500.5,205L503.5,209L507,210.5L509,209.5L511.5,207.5L512,209L510.5,211L513,211.2L515,210.2L517,211L516.5,212.5L514,213.5L511.5,213.5L510.5,213L508,214.5L508.5,216.5L509.5,220L507,219.5L504,216.5L501,214L497,212.5L493.5,211L490,209L486.5,206.5L484.5,207L483,209.5L480.5,207.5L480,204Z"/>
<path class="red" d="M512,206.5L515,206.2L518,205L522,206L527,206.5L531.5,207L529,209L526,210.5L525.5,212.2L521,212.5L519.5,214.5L515,214.5L511.5,214.5L511.2,213.8L514,213.5L516.5,212.5L517,211L515,210.2L513,211.2L510.5,211L512,209Z"/>
<path class="lyg" d="M508,214.5L510.5,213L511.5,214.5L515,214.5L519.5,214.5L521,212.5L525.5,212.2L523.5,219L524.8,220.5L522.5,220.5L519.5,221L517,220L515,217.8L514,219.5L512,220L509.5,220L508.5,216.5Z"/>
<path class="red" d="M475,209L477,208L478.5,210L480.5,207.5L483,209.5L484.5,207L486.5,206.5L490,209L493.5,211L497,212.5L501,214L504,216.5L507,219.5L505,220L503,222L500,225.5L497,226L495.5,224L493,222L490,220L486,218.5L482,219.5L479,220.5L478,217L476,213L474.5,210.5Z"/>
<path class="white" d="M474.8,209L476.5,208.3L478.2,210L477,211.8L475,211.2Z"/>
<path class="red" d="M497,226L500,225.5L503,222L505,220L507,219.5L509.5,220L512,220L514,219.5L515,217.8L517,220L519.5,221L522.5,220.5L524.8,220.5L523,221.5L519.5,222.5L518,224.5L518.5,227L517,230L515.5,233L515,235L512,236L510,238L506,240L499,241L498,240L497,234L496,228L497,224L496,227.5Z"/>
<path class="blue" d="M524.8,220.5L526.5,221.2L529,223.5L531.8,225.5L530,227L526.5,227.8L524.5,229L525.5,231L527.5,233.5L526,236L525,240L522,244L520,248L522,253L518,255L515,252.4L509,252L502,252.4L503,248L500,243L499,241L506,240L510,238L512,236L515,235L515.5,233L517,230L518.5,227L518,224.5L519.5,222.5L523,221.5Z"/>
<path class="lyg" d="M459,221L459.5,219.5L459,217.5L459.5,215.5L461,216L464,214.5L466,214L467.5,215.5L468,217.5L469,218.5L471,220L474,221.5L477,221.5L479,220L479,220.5L482,219.5L486,218.5L490,220L493,222L495.5,224L497,226L496,227.5L497,224L496,228L497,234L498,240L499,241L500,243L503,248L502,252.4L495,251.2L490.5,250L489,248L486,248.5L483,247.5L479,246L476,243L474,240L471,239.5L470,241L468,238L467,232L464,226L463,221Z"/>
<path class="red" d="M442,223L447,221.6L454,221L459,221L463,221L464,226L467,232L468,238L469.5,240L470.5,243L473,246.5L475.5,249.5L476.5,252L477.5,250.5L478.5,252L479.5,254.5L482.5,255L485,254L487.5,251L489,249.5L490,253.5L493,255.5L497.5,259.5L496,263L494,265L493.5,268L491,270L489,272L485,274L482,275L481.5,277L477,279.5L472,282L468,283L465,284L462.2,284.8L461,281L460.5,277L459.5,273L457,269L455.5,267L454,265L452,263L450.5,258L448.75,255L446.75,253L443.75,248L440.75,245L440,243.5L441,241.5L443.5,240.5L445.5,238.5L444.5,237L446.5,235.5L449,234L448.2,231.2L446.5,232L443.5,233.5L441.5,233L441,230.5L440.8,228Z"/>
<path class="line" d="M447,233L452,230L456,228L454,224L454,221"/>
<path class="line" d="M460.8,273L462.5,272L470,272.5L473,269.5L481,268L487.5,265.5"/>
<path class="line" d="M481,268L484,274"/>
<path class="line" d="M487.5,265.5L488.5,260L487,258.5L481,258L479.5,254.5"/>
<path class="line" d="M487,258.5L489,249.5"/>
<path class="line" d="M440,243.5L444,240L449,234L455,236L462,241.5L467,241.5L469.5,240"/>
<path class="lyg" d="M531.8,225.5L530,227L526.5,227.8L524.5,229L525.5,231L527.5,233.5L526,236L525,240L522,244L520,248L522,253L521,258L524,261L528,263L529,269L532,278L536,286L540,294L542,296.4L545,292L546,284L547,277L550,272L555,267L560,262L564,260L563.6,258L563,254L561,250L564.4,249L568,252L570.4,254L569.6,257L572,261L575,256L577,251L579,244L576,241.6L570,243L568.4,245.6L568,248L562,248.4L561.6,245.6L561,246L560,248.4L554,249L547,246L541.6,243L541,240L541,239L541,238.5L538,236L535.5,233L536,230L534,227Z"/>
<path class="green" d="M547,293L549,292.4L551,297L550,301.6L547.6,301.6L546.4,298Z"/>
<path class="blue" d="M541,240L545,239.6L552,243L559.6,245L560,248.4L554,249L547,246L541.6,243Z"/>
<path class="green" d="M561.6,245.6L565,244.4L568.4,245.6L568,248L562,248.4Z"/>
<path class="orange" d="M561,250L564.4,249L568,252L570.4,254L569.6,257L572,261L571,262L569,258L566,260.4L563.6,258L563,254Z"/>
<path class="lyg" d="M539,190L537,192L537.5,195L534,196L532,198.5L529,200.5L530,203.5L531.5,207L529,209L526,210.5L525.5,212.2L523.5,219L524.8,220.5L526.5,221.2L529,223.5L531.8,225.5L534,227L536,230L535.5,233L538,236L541,238.5L541,239L541,240L545,239.6L552,243L559.6,245L561,246L561.6,245.6L565,244.4L568.4,245.6L570,243L576,241.6L579,244L578,247.5L580.5,244L583,245.5L584,248.5L583.5,252L583,254.5L585,255.5L587.5,259L590,261.5L592.5,261L594,259.5L597,258L600,257L603.5,258.5L606,261.5L608,262.5L610.5,262.2L611,264L614,265L616,262L620,260L624,258L627,255L630,251L633,246L634,241L632,236L630,231L628,228.4L622.4,227L624,224L626,221L623,220L619,219L615,217L618,214.4L621,213.6L624,216L628,214L631,210L634,207L637,206L635.6,202.4L638,199L636,193L631,192L625,187L618,183L612,181L604,179.6L600,182L600,188L592,187.6L584,189L576,187.6L567,186.4L559,184L557,187L546,186L539,189.6Z"/>
<path class="line" d="M600,188L597,190L598,193L607,195L605,197.6L598,199L594,203L595,206L590,207L584,209.4L577,207.6L568,206L560,203L552,200L548,196L544,193L539,189.6"/>
<path class="red" d="M578,247.5L580.5,244L583,245.5L584,248.5L583.5,252L583,254.5L585,255.5L587.5,259L590,261.5L592.5,261L594,259.5L596,261.5L598.5,263.5L600.5,266L599.5,267.5L602,269.5L604.5,272.5L607,275.5L608.5,278.5L608.5,281L609,284L609.5,286L607,287L606.5,289L603.5,290L601.5,289.5L599.5,287.5L597.5,285L597,283L594.5,284.5L594,283L592,282.5L591.5,284.5L591.8,287L591,290L591.5,293L593,296L595,299.5L598,302L600.5,305L601.5,309L603.5,313L603,314.5L600,313L597,310L595,307L593.5,303L591.5,299.5L589.5,296.5L588.5,294L589,296L589.5,293L589,290L588.5,287L587.5,283L586.5,279.5L585.5,276.5L584.5,274L582.5,275L580,276.5L578,275.5L578.5,273L577.5,270L575.5,267L573.5,264.5L572.5,262.5L572.8,259L573.5,256.5L575,255L575.5,251L576.5,248.5Z"/>
<path class="lyg" d="M594,259.5L597,258L600,257L603.5,258.5L606,261.5L604.5,263.5L603,265.5L602.5,267.5L604.5,270L607,273L610,276L612,279.5L613.5,283L613.5,286.5L611.5,289L609,291L607,293L604.5,295L603.5,293L604,290.5L606.5,289L607,287L609.5,286L609,284L608.5,281L608.5,278.5L607,275.5L604.5,272.5L602,269.5L599.5,267.5L600.5,266L598.5,263.5L596,261.5Z"/>
<path class="line" d="M590,261.5L588,264.5L585.5,266L584.5,269L585,272L586.5,274.5L587.5,278L588.5,282L590,284L590.5,287"/>
<path class="line" d="M590,261.5L591.5,264L592.5,266.5L593,271L596,271.5L599.5,270L601.5,272L602.5,275L604.5,277.5L604.5,280L608.5,280.5"/>
<path class="line" d="M597,283L598,281L601.5,280L604.5,280"/>
<path class="lyg" d="M609.5,267L611.5,265.8L614,266.2L614.5,268L612.5,269.8L610.5,270L609.5,268.5Z"/>
<path class="lyg" d="M610.5,262.2L613,262.6L613.2,265L611.5,264.6Z"/>
<path class="lyg" d="M633.8,253.5L635.5,252L636.8,252.5L636.5,256.5L635.5,260.5L634.2,258.5L633.5,256Z"/>
<path class="red" d="M637.5,270L639.5,269.5L641.5,271.5L642,274.5L641,277L640.5,279.5L643,280.5L645.5,281L647,283.5L649,285.5L650,285.5L648,285L645.5,283L642.5,281.5L639,280L638.5,279.5L637,277.5L636.5,275L637.2,272.5Z"/>
<path class="red" d="M638.5,282.5L639.8,281.8L641,284.2L640,285.2L639,284Z"/>
<path class="red" d="M632,296L634,293L636,290.5L637.8,288.5L637.5,290L635.5,293L633,296Z"/>
<path class="red" d="M642.5,287.5L644.5,287L645.5,289.5L644,290.5L642.8,289.5Z"/>
<path class="red" d="M645,291L646.5,290L647.2,292.5L646,294L645.2,292.8Z"/>
<path class="red" d="M648,286L650,285.8L651.5,288L651,290.5L649.5,289.5L648.5,288Z"/>
<path class="red" d="M643.5,298.5L645,296.5L647.5,296L649,294.5L651.5,292.5L653.5,294L654,297.5L653.5,301L652,303L650.5,301.5L649,299.5L647,298.5L645,299.5Z"/>
<path class="lyg" d="M582.2,304L584.5,303.5L587.5,305L590.5,308.5L594,312L597.5,315L601,318L604,322L607,325.5L607.2,329.5L606.2,333L604,332.5L600.5,329L597,324.5L594,320L591.5,315.5L589.5,312L586.5,308.5L583.5,306Z"/>
<path class="lyg" d="M606.2,334.5L609,333.5L613,335L617.5,335.5L622,337L627,339L628,338.4L627,340.4L621,340L614,339L608,337.6L609,337.5L606.5,336Z"/>
<path class="red" d="M616,313L618.5,312L620.5,310L623,308.5L626,305.5L629,302.5L632,300L634.5,302.5L637.8,304L636,305.5L634.5,306.5L632,307L630,308L628.5,310.5L626,313L623,314.5L620,315L617.5,315.5L616.2,314.5Z"/>
<path class="lyg" d="M614.5,315L616.2,314.5L617.5,315.5L620,315L623,314.5L626,313L628.5,310.5L630,308L632,307L634.5,308.5L635.5,312L637,315L635,316.5L634,320L632,323L631,326L629.5,328L626.5,327L623,326.5L620,326L617.5,324.5L616,322L615,319L614.2,316.5Z"/>
<path class="lyg" d="M640,316L642.5,315L646,315L650,314L651.8,314L650.5,316L647,317L643.5,317.2L641.5,318.5L641.5,320L644,320.5L647.5,319.5L645.5,321.5L643.5,322.5L644,325L645.5,328L646.5,330L646,332L644.5,331.5L643,328.5L641.5,326L640.5,329L640,332L638.5,332L638.5,328L637.5,325.5L638,322L639,318.5Z"/>
<path class="lyg" d="M657,313.5L658.5,312.5L659.5,314.5L659,317L658,319.5L657.5,317.5L657.2,315.5Z"/>
<path class="lyg" d="M653.5,326.5L655,326L656.5,326.8L654.5,327.5Z"/>
<path class="lyg" d="M658.5,325.8L661,325.2L664,326.2L665,327.5L662,327L659.5,326.8Z"/>
<path class="lyg" d="M631.6,340L635,339L637,340.4L633.6,341.6Z"/>
<path class="lyg" d="M638,340L642,339L645.6,339.6L643,341.2L639,341.2Z"/>
<path class="lyg" d="M636.4,342.4L639.6,343L640,344.6L637,344Z"/>
<path class="lyg" d="M646.4,343.6L650,341L651.6,341.6L649,344L647,345Z"/>
<path class="red" d="M650.4,341L655,339.4L655.6,340.4L651.6,342Z"/>
<path class="lyg" d="M672,332.4L673.6,332L673.6,335.6L672.2,335.6Z"/>
<path class="lyg" d="M665,320L670,318.6L673.2,321.6L670.4,324L669,327.6L673,326.4L678,323.2L683,322.4L688,325L688,341.6L683,340L680,336.4L677.6,332.4L674,329.6L670,329L667.6,326L668.4,323Z"/>
<path class="red" d="M627.5,213.75L630,210L632.92,209.58L635,206.67L636.67,206.25L637.5,207.92L636.25,210L637.08,211.67L635.42,213.75L634.58,215.42L637.08,217.5L635,218.75L632.92,219.17L630.83,218.33L630.83,215.83L629.17,214.58Z"/>
<path class="blue" d="M635,218.75L637.08,217.67L639.58,218.75L641.67,220.83L643.33,223.33L643.75,225.83L642.08,227.08L639.58,227.92L637.92,226.67L636.83,224.17L635.42,222.5L635.83,220.83Z"/>
<path class="lyg" d="M655.42,199.58L657.5,200.83L660.42,202.5L663.33,203.33L665,202.5L666.83,204.83L665,206.67L662.92,207.92L660.42,207.5L660,209.58L657.92,208.75L656.25,206.67L655.83,205L657.5,203.75L656.67,201.67Z"/>
<path class="lyg" d="M660,210.42L662.08,210.83L664.17,212.92L665.42,215.83L666.25,219.17L667.08,222.08L668.33,224.58L667.08,226.67L665,227.5L662.92,227.92L661.25,229.58L659.17,230.42L657.08,229.17L655,228.33L652.92,229.17L650.83,230L649.17,229.17L650.42,226.67L652.5,225.42L655,224.58L657.08,224.17L657.92,222.08L657.5,220.42L659.58,220.83L661.25,218.75L660.83,215.83L660,212.92Z"/>
<path class="lyg" d="M653.33,230L655.83,229.17L657.5,230L656.25,231.67L654.17,231.67Z"/>
<path class="lyg" d="M646.25,231.25L647.92,229.83L650,230L651.25,231.67L652.5,234.17L651.67,236.67L650,236.25L649.17,234.17L647.92,232.92Z"/>
<path class="yor" d="M667,347.6L663,350L659,355L654,354L648,358L643,362L638,368L630,371L623,374L620,377L619,383L617,387L619,393L618,400L615,405L614.4,408L620,409.6L626,407L634,404L642,402L650,401L656,403L659,407L662,409L665,404L664,409L665,415L670,418L676,419L680,417L683,416.4L688,413L692,409L696,405L700,400L703.6,394L705.6,389L705.6,383L703,377L700,370L695.6,364L695,357L692.4,355L691,351L689.6,346.4L687,354L685,360L682,364L677,360L673,357L675,353L676,349L669,349Z"/>
<path class="yor" d="M668,425L672,424L677,424.4L675,428.4L671,431.6L667.6,431L667,428Z"/>
<path class="red" d="M688,325L692,326.4L697,330L700,333L702.4,335.6L700,336.4L703,340L707,343.6L709,345.6L705,344.4L700,341.6L696,340L692,342L688,341.6Z"/>
<path class="red" d="M704.4,332.4L708,331.6L712,330L714,327.6L711,324.4L715.6,326.4L716,329L713,332.4L708,334L705,334Z"/>
<path class="red" d="M719,331L720.4,331.6L722.4,335L721.2,335.6L719.6,333Z"/>
<path class="red" d="M723.2,335.6L724.8,336.4L726,338L724.4,337.4Z"/>
<path class="red" d="M727,337.2L730,338.8L731.2,340.4L728.8,339.6Z"/>
<path class="red" d="M730.4,341.6L732.4,342.4L733.6,344L731.6,343.4Z"/>
<path class="red" d="M733.2,344.4L734.8,345.2L735.2,346.6L733.8,345.8Z"/>
<path class="red" d="M743,356L744.4,357L745,361L743.6,360Z"/>
<path class="none" d="M734,370L735.6,369.6L740.4,375.6L739,376.6Z"/>
<path class="red" d="M766,364L769,363L770,365L767,366Z"/>
<path class="red" d="M770,361L773.6,360L773.6,361.2L770.4,362Z"/>
<path class="blue" d="M739,408.4L741,408L741.6,412L744,415L747,416.4L744.4,419L741,420L739,423L736,425.6L732.4,426.4L733.6,423L736.4,420L738.4,417L739.6,413Z"/>
<path class="blue" d="M731,423.6L729.6,426L724,429L720,432L716,435L711,439L707,439.6L705,437.6L710,434.4L716,431.6L721,428.4L726,425Z"/>
</g>
</g>
</svg>
<div class="sw" style="left:73px;top:516.4px;background:#3288bd"></div><div id="l1" class="abs lg" style="left:92.5px;top:514px">Legal, no restrictions</div>
<div class="sw" style="left:234.6px;top:516.4px;background:#99d594"></div><div id="l2" class="abs lg" style="left:254.3px;top:514px;letter-spacing:-0.05px">Legal, medical diagnosis required</div>
<div class="sw" style="left:473.2px;top:516.4px;background:#e6f598"></div><div id="l3" class="abs lg" style="left:492.5px;top:514px;letter-spacing:-0.04px">Legal, surgery required</div>
<div class="sw" style="left:648.6px;top:516.4px;background:#fee08b"></div><div id="l4" class="abs lg" style="left:667.5px;top:514px">Varies by region</div>
<div class="sw" style="left:302.5px;top:534.7px;background:#fc8d59"></div><div id="l5" class="abs lg" style="left:321.7px;top:532.5px">Ambiguous</div>
<div class="sw" style="left:404.5px;top:534.7px;background:#d53e4f"></div><div id="l6" class="abs lg" style="left:423.5px;top:532.5px;letter-spacing:-0.02px">Illegal</div>
<div class="sw" style="left:471.3px;top:534.7px;border-color:#c9c9c9;background:repeating-linear-gradient(135deg,#fff 0 2.3px,#e4e4e4 2.3px 3.7px)"></div><div id="l7" class="abs lg" style="left:490.3px;top:532.5px;letter-spacing:0.14px">No data</div>
<div id="foot1" class="abs"><b style="letter-spacing:-0.5px">Data source:</b><span style="letter-spacing:-0.2px"> Equaldex (2025)</span></div>
<div id="foot2" class="abs">OurWorldinData.org/lgbt-rights | CC BY</div>
</body></html>
